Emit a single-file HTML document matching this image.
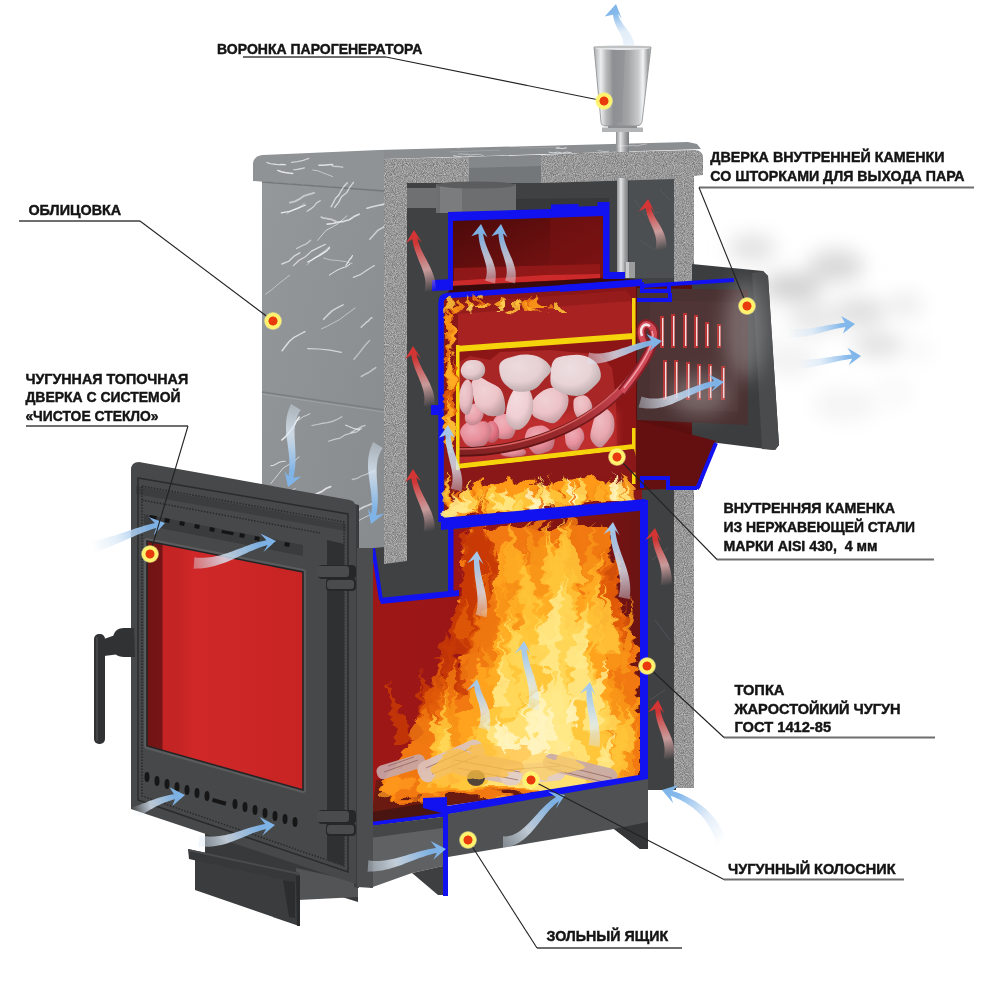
<!DOCTYPE html>
<html><head><meta charset="utf-8">
<style>
html,body{margin:0;padding:0;background:#fff;}
body{width:1000px;height:1000px;overflow:hidden;position:relative;}
svg{position:absolute;left:0;top:0;}
.t{font-family:"Liberation Sans",sans-serif;font-weight:bold;font-size:15px;fill:#141414;stroke:#141414;stroke-width:0.45px;}
</style></head><body>
<svg width="1000" height="1000" viewBox="0 0 1000 1000">
<defs>
  <filter id="blur10" x="-50%" y="-50%" width="200%" height="200%"><feGaussianBlur stdDeviation="10"/></filter>
  <filter id="blur4" x="-50%" y="-50%" width="200%" height="200%"><feGaussianBlur stdDeviation="4"/></filter>
  <filter id="blur2" x="-50%" y="-50%" width="200%" height="200%"><feGaussianBlur stdDeviation="1.5"/></filter>
  <filter id="blur1" x="-50%" y="-50%" width="200%" height="200%"><feGaussianBlur stdDeviation="0.8"/></filter>
  <filter id="speck" x="0" y="0" width="100%" height="100%" color-interpolation-filters="sRGB">
    <feTurbulence type="fractalNoise" baseFrequency="1.1" numOctaves="1" seed="3"/>
    <feColorMatrix type="matrix" values="0.55 0 0 0 0.32  0.55 0 0 0 0.32  0.55 0 0 0 0.32  0 0 0 0 1"/>
    <feComposite in2="SourceGraphic" operator="in"/>
  </filter>
  <filter id="flameF" x="-20%" y="-20%" width="140%" height="140%" color-interpolation-filters="sRGB">
    <feTurbulence type="fractalNoise" baseFrequency="0.025 0.07" numOctaves="3" seed="7" result="t"/>
    <feDisplacementMap in="SourceGraphic" in2="t" scale="28" xChannelSelector="R" yChannelSelector="G"/>
  </filter>
  <filter id="flameS" x="-20%" y="-20%" width="140%" height="140%" color-interpolation-filters="sRGB">
    <feTurbulence type="fractalNoise" baseFrequency="0.05 0.12" numOctaves="2" seed="11" result="t"/>
    <feDisplacementMap in="SourceGraphic" in2="t" scale="16" xChannelSelector="R" yChannelSelector="G"/>
  </filter>
  <linearGradient id="stoneG" x1="0" y1="0" x2="1" y2="1">
    <stop offset="0" stop-color="#94989b"/><stop offset="1" stop-color="#878b8e"/>
  </linearGradient>
  <linearGradient id="upG" x1="0" y1="0" x2="1" y2="1">
    <stop offset="0" stop-color="#4a0909"/><stop offset="1" stop-color="#861515"/>
  </linearGradient>
  <linearGradient id="glassG" x1="0" y1="0" x2="1" y2="0">
    <stop offset="0" stop-color="#721414"/><stop offset="0.095" stop-color="#761515"/>
    <stop offset="0.105" stop-color="#c62424"/><stop offset="0.2" stop-color="#c42424"/><stop offset="0.3" stop-color="#d02828"/><stop offset="1" stop-color="#c82424"/>
  </linearGradient>
  <linearGradient id="fireWall" x1="0" y1="0" x2="1" y2="0">
    <stop offset="0" stop-color="#9e1717"/><stop offset="0.3" stop-color="#9a1616"/><stop offset="0.75" stop-color="#801414"/><stop offset="1" stop-color="#6a1313"/>
  </linearGradient>
  <linearGradient id="funG" x1="0" y1="0" x2="1" y2="0">
    <stop offset="0" stop-color="#a9abad"/><stop offset="0.12" stop-color="#eceeef"/><stop offset="0.22" stop-color="#b5b7b9"/>
    <stop offset="0.35" stop-color="#8d8f91"/><stop offset="0.6" stop-color="#a3a5a7"/><stop offset="0.78" stop-color="#c9cbcd"/>
    <stop offset="0.86" stop-color="#f2f3f4"/><stop offset="0.95" stop-color="#9a9c9e"/><stop offset="1" stop-color="#bfc1c3"/>
  </linearGradient>
  <linearGradient id="rodG" x1="0" y1="0" x2="1" y2="0">
    <stop offset="0" stop-color="#8c8e90"/><stop offset="0.35" stop-color="#e2e4e6"/><stop offset="0.7" stop-color="#a2a4a6"/><stop offset="1" stop-color="#7a7c7e"/>
  </linearGradient>
  <linearGradient id="arrBu" x1="0" y1="1" x2="0" y2="0">
    <stop offset="0" stop-color="#ffffff" stop-opacity="0"/><stop offset="1" stop-color="#86bbec"/>
  </linearGradient>
  <linearGradient id="arrBd" x1="0" y1="0" x2="0" y2="1">
    <stop offset="0" stop-color="#ffffff" stop-opacity="0"/><stop offset="1" stop-color="#86bbec"/>
  </linearGradient>
  <linearGradient id="arrBr" x1="0" y1="0" x2="1" y2="0">
    <stop offset="0" stop-color="#ffffff" stop-opacity="0"/><stop offset="1" stop-color="#86bbec"/>
  </linearGradient>
  <linearGradient id="arrBl" x1="1" y1="0" x2="0" y2="0">
    <stop offset="0" stop-color="#ffffff" stop-opacity="0"/><stop offset="1" stop-color="#86bbec"/>
  </linearGradient>
  <linearGradient id="arrR" x1="0" y1="1" x2="0" y2="0">
    <stop offset="0" stop-color="#d44" stop-opacity="0"/><stop offset="1" stop-color="#d83a3a"/>
  </linearGradient>
  <linearGradient id="arrW" x1="0" y1="1" x2="0" y2="0">
    <stop offset="0" stop-color="#ffffff" stop-opacity="0"/><stop offset="0.5" stop-color="#e8eef8" stop-opacity="0.7"/><stop offset="1" stop-color="#9cc4ec"/>
  </linearGradient>
  <radialGradient id="dotG"><stop offset="0.46" stop-color="#e83a0c"/><stop offset="0.54" stop-color="#fff36e"/><stop offset="0.84" stop-color="#fff36e"/><stop offset="1" stop-color="#fff8a0" stop-opacity="0.4"/></radialGradient>
</defs>
<!-- ============ STEAM ============ -->
<g filter="url(#blur10)">
  <ellipse cx="752" cy="248" rx="24" ry="13" fill="#e0e0e0"/>
  <ellipse cx="792" cy="287" rx="30" ry="14" fill="#d0d0d0"/>
  <ellipse cx="836" cy="266" rx="28" ry="16" fill="#d8d8d8"/>
  <ellipse cx="860" cy="312" rx="26" ry="14" fill="#dedede"/>
  <ellipse cx="878" cy="345" rx="26" ry="12" fill="#e0e0e0"/>
  <ellipse cx="905" cy="305" rx="18" ry="12" fill="#ececec"/>
  <ellipse cx="815" cy="318" rx="28" ry="16" fill="#e8e8e8"/>
  <ellipse cx="790" cy="360" rx="26" ry="16" fill="#f2f2f2"/>
  <ellipse cx="845" cy="405" rx="32" ry="16" fill="#f4f4f4"/>
  <ellipse cx="895" cy="392" rx="18" ry="16" fill="#f9f9f9"/>
  <ellipse cx="920" cy="350" rx="12" ry="10" fill="#f6f6f6"/>
</g>

<!-- ============ BODY BACK (dark cavity) ============ -->
<rect x="404" y="178" width="272" height="612" fill="#3f4143"/>
<rect x="629" y="178" width="46" height="100" fill="#4c4f51"/>
<g stroke="#5c5e61" stroke-width="0.8" fill="none" opacity="0.8">
  <path d="M635,200 L645,215 L660,212"/><path d="M640,240 L655,250"/><path d="M660,190 L670,200"/>
  <path d="M652,560 L668,548"/><path d="M655,620 L670,640"/><path d="M650,700 L665,690"/>
</g>

<!-- top surface of slab -->
<polygon points="379,150 688,142 697,144 701,149 580,153 384,159" fill="#8a8e91"/>
<g stroke="#a4a7aa" stroke-width="1" fill="none" opacity="0.7">
  <path d="M450,152 L500,150"/><path d="M520,148 L560,147"/>
</g>
<!-- cut section: speckled insulation -->
<polygon points="384,159 469,157 469,183 407,183 407,564 384,564" fill="#999" filter="url(#speck)"/>
<path d="M541,155 L580,153 L694,150 Q703,150 703,158 L703,175 L694,176 L694,788 L674,788 L674,179 L541,183 Z" fill="#999" filter="url(#speck)"/>
<!-- flue gap -->
<polygon points="469,157 541,155 541,183 469,183" fill="#74777a"/>
<polygon points="469,157 541,155 541,166 469,168" fill="#85888b"/>
<!-- flue cylinder behind upper chamber -->
<rect x="436" y="184" width="80" height="29" fill="#6c6e70"/>
<rect x="440" y="184" width="22" height="29" fill="#7a7c7e"/>
<ellipse cx="476" cy="185" rx="40" ry="3.5" fill="#5a5c5e"/>
<rect x="407" y="188" width="30" height="20" fill="#6e7072"/>
<polygon points="516,199 609,198 609,212 516,212" fill="#37383a"/>
<!-- rod -->
<rect x="616" y="132" width="13" height="20" fill="url(#rodG)"/>
<rect x="617" y="178" width="11" height="98" fill="url(#rodG)"/>
<rect x="624" y="262" width="11" height="16" fill="#9a9c9e"/><rect x="626" y="262" width="3" height="16" fill="#c8cacc"/>

<!-- ============ STONE CLADDING LEFT FACE ============ -->
<polygon points="262,182 384,191 384,564 262,552" fill="url(#stoneG)"/>
<line x1="262" y1="392" x2="384" y2="410" stroke="#7a7e81" stroke-width="1.5"/>
<line x1="262" y1="394" x2="384" y2="412" stroke="#a0a4a7" stroke-width="0.8"/>
<!-- slab front -->
<path d="M253,181 L253,163 Q254,156 263,155 L379,150 L384,150 L384,191 Z" fill="#8f9396"/>
<line x1="262" y1="182" x2="384" y2="191" stroke="#74787b" stroke-width="1.4"/>
<!-- marble streaks -->
<clipPath id="cladClip"><polygon points="262,182 384,191 384,564 262,552"/><path d="M253,181 L253,163 Q254,156 263,155 L379,150 L384,150 L384,191 Z"/><polygon points="384,150 688,142 697,144 701,149 580,153 384,159"/></clipPath>
<g stroke="#eef0f2" fill="none" stroke-linecap="round" stroke-linejoin="round" clip-path="url(#cladClip)">
<path d="M281.8,440.0 L285.4,436.8 L288.6,433.1 L291.7,429.4 L294.3,425.4 L296.4,421.0 L299.3,417.1" stroke-width="1.6" opacity="0.95"/>
<path d="M327.2,224.1 L332.8,223.5 L338.3,222.2 L343.9,221.3 L349.3,219.7 L354.0,216.6 L359.1,214.2" stroke-width="1.7" opacity="0.81"/>
<path d="M317.7,240.3 L325.9,230.4 L337.3,224.3 L346.9,215.9" stroke-width="0.8" opacity="0.83"/>
<path d="M323.6,319.3 L327.8,314.9 L332.3,310.6 L337.6,307.6 L343.1,304.8" stroke-width="1.5" opacity="0.71"/>
<path d="M335.1,530.4 L340.2,527.0 L346.2,525.6 L352.2,524.1 L357.6,521.2 L363.0,518.3 L368.5,515.5" stroke-width="0.9" opacity="0.71"/>
<path d="M305.7,546.2 L308.3,543.7 L310.9,541.3 L314.1,539.7 L317.3,537.9 L320.4,536.2 L323.4,534.1" stroke-width="1.6" opacity="0.57"/>
<path d="M369.8,239.2 L373.9,234.8 L377.9,230.3 L383.2,227.4 L387.1,222.9 L391.6,218.8" stroke-width="1.6" opacity="0.65"/>
<path d="M281.3,212.8 L289.7,211.4 L297.7,208.4 L305.5,205.0" stroke-width="1.2" opacity="0.95"/>
<path d="M290.7,504.9 L292.7,503.4 L294.8,502.1 L297.2,501.5 L299.5,500.6 L301.5,499.1 L303.6,497.8" stroke-width="1.2" opacity="0.68"/>
<path d="M306.6,502.9 L309.9,499.3 L313.4,495.8 L317.6,493.3 L322.1,491.4 L326.0,488.5 L330.6,486.7" stroke-width="1.8" opacity="0.84"/>
<path d="M361.1,327.3 L362.9,325.5 L364.7,324.0 L366.4,322.2 L368.5,320.9 L369.9,319.0 L371.9,317.6" stroke-width="1.4" opacity="0.69"/>
<path d="M367.0,208.2 L372.4,206.8 L377.8,205.5 L383.3,204.4 L388.1,201.6 L392.9,198.8" stroke-width="1.7" opacity="0.76"/>
<path d="M306.9,265.0 L311.0,260.8 L315.8,257.5 L320.3,253.8 L325.1,250.4 L329.4,246.4" stroke-width="0.9" opacity="0.55"/>
<path d="M281.9,264.0 L288.5,261.4 L293.7,256.4 L299.8,252.8" stroke-width="1.4" opacity="0.73"/>
<path d="M270.9,465.8 L273.8,465.2 L276.5,463.8 L279.2,462.3 L282.2,461.5 L285.2,461.2" stroke-width="1.1" opacity="0.81"/>
<path d="M352.3,479.5 L357.1,478.4 L361.4,476.0 L366.1,474.3 L370.6,472.3 L375.1,470.3" stroke-width="1.3" opacity="0.53"/>
<path d="M270.9,483.5 L275.0,478.4 L279.1,473.3 L283.1,468.1 L288.7,464.7 L294.2,461.2 L299.1,456.8" stroke-width="0.9" opacity="0.80"/>
<path d="M331.1,206.9 L333.4,202.6 L335.6,198.2 L339.0,194.7 L341.3,190.4 L344.0,186.3 L347.3,182.7" stroke-width="1.3" opacity="0.73"/>
<path d="M307.7,348.6 L319.0,349.0 L330.2,350.2 L341.3,352.4" stroke-width="1.2" opacity="0.72"/>
<path d="M329.3,275.1 L332.6,273.0 L335.9,270.9 L339.4,269.1 L343.0,267.7 L346.8,266.6 L349.9,264.2" stroke-width="1.0" opacity="0.91"/>
<path d="M285.8,504.7 L291.7,502.4 L297.2,499.4 L303.2,497.4 L309.4,496.2 L315.5,495.0" stroke-width="1.4" opacity="0.54"/>
<path d="M282.0,350.8 L285.7,346.0 L289.4,341.2 L294.1,337.3 L299.4,334.5 L304.9,331.7" stroke-width="1.4" opacity="0.81"/>
<path d="M361.2,376.5 L363.7,375.1 L366.2,373.7 L368.7,372.5 L371.1,370.9 L373.4,369.1 L375.8,367.6" stroke-width="1.5" opacity="0.57"/>
<path d="M293.4,265.6 L299.1,260.2 L305.8,256.4 L311.5,251.1 L318.4,247.6 L325.5,244.3" stroke-width="1.2" opacity="0.78"/>
<path d="M289.9,202.6 L295.1,201.4 L299.7,198.9 L304.0,195.8 L309.0,194.3 L314.1,192.8" stroke-width="1.8" opacity="0.59"/>
<path d="M321.2,217.1 L323.5,218.2 L326.1,218.3 L328.6,219.1 L331.2,219.2 L333.6,220.4 L336.0,221.4" stroke-width="1.7" opacity="0.61"/>
<path d="M346.0,265.5 L347.2,263.5 L348.4,261.5 L349.7,259.5 L351.3,257.8 L352.4,255.7" stroke-width="1.3" opacity="0.86"/>
<path d="M351.2,432.5 L353.9,431.0 L356.4,429.2 L359.3,428.0 L362.0,426.4 L365.0,425.5" stroke-width="1.5" opacity="0.59"/>
<path d="M307.1,211.3 L310.7,208.9 L314.0,206.2 L316.6,202.9 L320.2,200.7" stroke-width="1.3" opacity="0.68"/>
<path d="M287.1,214.1 L289.5,211.7 L292.6,210.2 L295.7,208.7 L298.8,207.3 L301.8,205.6 L304.3,203.3" stroke-width="0.8" opacity="0.67"/>
<path d="M348.0,514.2 L352.2,513.2 L356.4,512.0 L359.7,509.2 L363.5,507.1 L367.6,505.5 L371.6,503.9" stroke-width="1.8" opacity="0.68"/>
<path d="M345.6,425.1 L348.4,426.3 L351.1,427.4 L353.8,428.6 L356.7,429.2 L359.7,429.4" stroke-width="1.0" opacity="0.95"/>
<path d="M307.8,262.0 L311.7,260.0 L315.4,257.7 L319.3,255.7 L322.9,253.3 L326.6,250.9 L329.5,247.7" stroke-width="1.4" opacity="0.95"/>
<path d="M321.5,328.9 L327.5,326.1 L333.3,322.9 L339.2,319.8 L344.5,315.8 L349.8,311.9 L355.1,308.0" stroke-width="0.9" opacity="0.61"/>
<path d="M353.3,277.3 L360.8,274.3 L367.5,269.7 L374.4,265.5" stroke-width="1.3" opacity="0.71"/>
<path d="M296.6,248.5 L301.5,246.0 L306.5,243.7 L310.7,240.1" stroke-width="1.2" opacity="0.68"/>
<path d="M353.9,359.3 L357.9,354.6 L361.7,349.8 L365.4,344.9 L369.6,340.5" stroke-width="1.5" opacity="0.51"/>
<path d="M328.6,441.2 L334.4,439.4 L340.2,438.1 L345.2,434.8 L351.0,433.2 L356.8,431.8 L361.6,428.2" stroke-width="1.2" opacity="0.61"/>
<path d="M297.3,420.5 L300.4,418.9 L303.3,416.6 L306.6,415.4 L309.8,413.7" stroke-width="0.9" opacity="0.78"/>
<path d="M267.5,513.4 L272.1,507.4 L278.3,503.1 L283.8,498.1 L288.6,492.2 L295.2,488.5" stroke-width="0.8" opacity="0.88"/>
<path d="M334.7,207.4 L338.6,202.4 L341.5,196.7 L346.5,192.8 L349.7,187.3 L353.5,182.3" stroke-width="1.3" opacity="0.74"/>
<path d="M311.9,425.5 L317.1,424.5 L322.2,423.4 L327.4,422.6 L332.6,421.4 L337.4,419.3 L341.9,416.7" stroke-width="1.2" opacity="0.60"/>
<path d="M265.5,294.3 L271.7,289.8 L277.4,284.7 L283.5,280.0 L289.6,275.3" stroke-width="1.0" opacity="0.52"/>
<path d="M323.5,258.0 L330.5,260.0 L337.8,260.5 L345.1,261.5 L352.1,263.7" stroke-width="0.9" opacity="0.56"/>
<path d="M266.9,162.4 L270.5,163.7 L274.3,164.1 L278.1,164.7 L281.9,164.4 L285.8,164.8" stroke-width="1.1" opacity="0.88"/>
<path d="M332.2,165.8 L333.9,166.2 L335.7,166.5 L337.4,166.4 L339.2,166.6 L340.9,166.9 L342.6,167.3" stroke-width="1.4" opacity="0.60"/>
<path d="M293.8,169.6 L296.5,169.7 L299.2,169.0 L301.8,168.5 L304.4,167.8" stroke-width="1.3" opacity="0.69"/>
<path d="M318.9,165.3 L323.5,165.2 L328.0,164.7 L332.6,164.5" stroke-width="1.4" opacity="0.83"/>
<path d="M291.5,162.4 L297.4,161.6 L303.2,160.3 L308.9,158.4" stroke-width="1.3" opacity="0.67"/>
<path d="M277.7,170.4 L281.4,171.7 L285.1,172.5 L288.9,173.1 L292.7,173.5" stroke-width="1.5" opacity="0.89"/>
<path d="M312.7,170.0 L317.9,170.8 L322.8,172.8 L327.7,174.6 L332.6,176.6" stroke-width="0.9" opacity="0.65"/>
<path d="M413.6,145.6 L419.6,146.0 L425.5,144.3 L431.6,144.2 L437.6,145.1" stroke-width="0.9" opacity="0.55"/>
<path d="M453.6,155.8 L459.8,156.8 L466.0,158.3 L472.3,158.3 L478.6,158.9" stroke-width="1.1" opacity="0.75"/>
<path d="M544.2,155.7 L549.9,155.4 L555.5,153.9 L561.3,154.2 L567.0,154.6" stroke-width="0.9" opacity="0.77"/>
<path d="M439.8,146.2 L443.7,146.5 L447.5,147.2 L451.4,146.8 L455.2,147.3 L459.0,148.2" stroke-width="1.0" opacity="0.44"/>
<path d="M556.2,148.1 L558.3,147.9 L560.3,148.2 L562.3,148.5 L564.3,148.2 L566.3,147.9" stroke-width="1.1" opacity="0.79"/>
<path d="M549.0,152.2 L553.4,152.8 L557.9,152.1 L562.3,153.1 L566.7,152.1 L571.2,152.7" stroke-width="1.0" opacity="0.73"/>
<path d="M598.0,150.6 L600.7,151.0 L603.3,151.5 L606.0,151.6 L608.7,151.2" stroke-width="0.8" opacity="0.63"/>
<path d="M618.3,146.1 L623.0,145.6 L627.7,146.0 L632.4,145.3 L637.1,146.0 L641.7,144.7 L646.4,144.0" stroke-width="0.9" opacity="0.53"/>
<path d="M458.3,154.0 L462.5,154.0 L466.7,154.4 L470.9,154.9 L475.1,154.3 L479.3,154.5 L483.5,155.5" stroke-width="1.2" opacity="0.43"/>
<path d="M654.1,155.0 L657.0,155.6 L659.8,156.4 L662.7,156.7 L665.6,156.1" stroke-width="1.0" opacity="0.76"/>
</g>


<!-- ============ UPPER CHAMBER ============ -->
<polygon points="452,220 604,215 604,279 452,286" fill="url(#upG)"/>
<polygon points="550,217 604,215 604,279 550,281" fill="#7a1212" opacity="0.5"/>
<polygon points="454,268 600,264 600,280 454,284" fill="#9a1a1a" opacity="0.8"/>
<polygon points="452,281 545,275 600,274 600,278 452,286" fill="#cc2a2a"/>
<polygon points="453,286 605,278 642,280 642,284 444,297" fill="#3a0909"/>
<g fill="#1212f0">
  <polygon points="448,212 551,209 551,204.5 578.5,204 578.5,206.5 597.5,206 597.5,202 609,202 609,216 603,216 452,221"/>
  <rect x="448" y="212" width="5" height="72"/>
  <polygon points="432,280 453,279 453,290 432,291"/>
  <rect x="603" y="202" width="6.5" height="73"/>
  <rect x="603" y="272" width="22" height="7"/>
</g>
<!-- ============ STONE CHAMBER ============ -->
<polygon points="444,298 642,284 642,505 444,520" fill="#8a1717"/>
<!-- cylinder top -->
<path d="M458,303 L626,291 Q638,310 630,334 L458,347 Z" fill="#a82222"/>
<path d="M458,303 L626,291 Q632,297 632,301 L458,314 Z" fill="#961c1c"/>
<polygon points="459,352 634,339 634,445 459,464" fill="#8c1616"/>
<!-- right side door interior area -->
<polygon points="636,286 700,284 700,470 636,482" fill="#5a0e0e"/>
<!-- stones -->
<path d="M459,362 L470,356 L490,360 L500,352 L550,350 L570,352 L600,354 L612,368 L616,400 L617,448 L600,456 L459,463 Z" fill="#a82626"/>
<path d="M459,420 L617,410 L617,448 L600,456 L459,463 Z" fill="#c83030" opacity="0.7" filter="url(#blur4)"/>
<defs><radialGradient id="st0" cx="0.38" cy="0.32" r="0.75"><stop offset="0" stop-color="#eaa5ae"/><stop offset="0.55" stop-color="#e48894"/><stop offset="1" stop-color="#b16a73"/></radialGradient><radialGradient id="st1" cx="0.38" cy="0.32" r="0.75"><stop offset="0" stop-color="#eebdc3"/><stop offset="0.55" stop-color="#e9a8b0"/><stop offset="1" stop-color="#b58389"/></radialGradient><radialGradient id="st2" cx="0.38" cy="0.32" r="0.75"><stop offset="0" stop-color="#edadb6"/><stop offset="0.55" stop-color="#e8929e"/><stop offset="1" stop-color="#b4717b"/></radialGradient><radialGradient id="st3" cx="0.38" cy="0.32" r="0.75"><stop offset="0" stop-color="#eda9b2"/><stop offset="0.55" stop-color="#e78d99"/><stop offset="1" stop-color="#b46d77"/></radialGradient><radialGradient id="st4" cx="0.38" cy="0.32" r="0.75"><stop offset="0" stop-color="#f0b3bb"/><stop offset="0.55" stop-color="#ec9aa5"/><stop offset="1" stop-color="#b87880"/></radialGradient><radialGradient id="st5" cx="0.38" cy="0.32" r="0.75"><stop offset="0" stop-color="#e7939f"/><stop offset="0.55" stop-color="#e07080"/><stop offset="1" stop-color="#ae5763"/></radialGradient><radialGradient id="st6" cx="0.38" cy="0.32" r="0.75"><stop offset="0" stop-color="#edaab3"/><stop offset="0.55" stop-color="#e88e9a"/><stop offset="1" stop-color="#b46e78"/></radialGradient><radialGradient id="st7" cx="0.38" cy="0.32" r="0.75"><stop offset="0" stop-color="#efb9c0"/><stop offset="0.55" stop-color="#eaa2ac"/><stop offset="1" stop-color="#b67e86"/></radialGradient><radialGradient id="st8" cx="0.38" cy="0.32" r="0.75"><stop offset="0" stop-color="#efc8cc"/><stop offset="0.55" stop-color="#eab6bc"/><stop offset="1" stop-color="#b68d92"/></radialGradient><radialGradient id="st9" cx="0.38" cy="0.32" r="0.75"><stop offset="0" stop-color="#f0d1d5"/><stop offset="0.55" stop-color="#ecc2c8"/><stop offset="1" stop-color="#b8979c"/></radialGradient><radialGradient id="st10" cx="0.38" cy="0.32" r="0.75"><stop offset="0" stop-color="#f3dbde"/><stop offset="0.55" stop-color="#efcfd3"/><stop offset="1" stop-color="#baa1a4"/></radialGradient><radialGradient id="st11" cx="0.38" cy="0.32" r="0.75"><stop offset="0" stop-color="#f0d2d5"/><stop offset="0.55" stop-color="#ecc4c8"/><stop offset="1" stop-color="#b8989c"/></radialGradient><radialGradient id="st12" cx="0.38" cy="0.32" r="0.75"><stop offset="0" stop-color="#edccd1"/><stop offset="0.55" stop-color="#e8bcc2"/><stop offset="1" stop-color="#b49297"/></radialGradient><radialGradient id="st13" cx="0.38" cy="0.32" r="0.75"><stop offset="0" stop-color="#ecd7d9"/><stop offset="0.55" stop-color="#e6cacd"/><stop offset="1" stop-color="#b39d9f"/></radialGradient><radialGradient id="st14" cx="0.38" cy="0.32" r="0.75"><stop offset="0" stop-color="#ecdbde"/><stop offset="0.55" stop-color="#e6d0d3"/><stop offset="1" stop-color="#b3a2a4"/></radialGradient><radialGradient id="st15" cx="0.38" cy="0.32" r="0.75"><stop offset="0" stop-color="#eddee0"/><stop offset="0.55" stop-color="#e8d3d6"/><stop offset="1" stop-color="#b4a4a6"/></radialGradient></defs>
<path d="M526.1,452.0 C526.2,452.9 525.8,454.2 524.3,454.9 C522.8,455.7 519.8,456.3 517.2,456.6 C514.5,456.9 511.2,457.1 508.6,456.8 C506.0,456.6 502.8,455.8 501.5,455.0 C500.1,454.2 500.2,452.9 500.5,452.0 C500.7,451.1 501.7,450.2 503.0,449.4 C504.3,448.6 506.1,447.2 508.4,446.9 C510.7,446.6 514.5,447.2 517.1,447.5 C519.6,447.9 522.1,448.5 523.6,449.3 C525.1,450.0 525.9,451.1 526.1,452.0 Z" fill="url(#st0)"/>
<path d="M613.7,431.1 C612.6,434.7 609.8,438.1 607.6,440.9 C605.4,443.6 602.8,446.9 600.5,447.5 C598.3,448.1 595.9,446.1 594.2,444.3 C592.5,442.5 590.6,439.8 590.3,436.7 C590.0,433.5 591.3,429.1 592.3,425.4 C593.3,421.7 594.3,417.5 596.2,414.7 C598.0,411.8 601.2,408.9 603.5,408.4 C605.8,407.8 608.2,409.7 609.9,411.5 C611.7,413.3 613.4,415.9 614.0,419.2 C614.6,422.4 614.7,427.5 613.7,431.1 Z" fill="url(#st1)"/>
<path d="M584.3,438.0 C584.0,440.3 582.4,442.3 581.2,444.3 C580.1,446.3 579.0,449.1 577.2,449.9 C575.5,450.8 572.7,450.4 570.9,449.5 C569.1,448.6 567.3,446.6 566.3,444.7 C565.4,442.8 565.3,440.4 565.1,438.0 C565.0,435.6 564.4,432.3 565.3,430.4 C566.3,428.6 569.0,427.5 571.0,426.8 C572.9,426.1 575.3,425.5 577.2,426.2 C579.2,426.8 581.5,428.5 582.7,430.4 C583.9,432.4 584.5,435.7 584.3,438.0 Z" fill="url(#st2)"/>
<path d="M554.5,439.0 C554.8,442.0 554.0,446.2 552.3,448.5 C550.5,450.8 547.0,451.9 544.2,452.8 C541.4,453.7 538.0,454.9 535.4,454.1 C532.9,453.2 530.7,450.1 528.9,447.6 C527.2,445.1 525.0,442.0 524.8,439.0 C524.6,436.0 526.0,431.7 527.8,429.5 C529.7,427.4 533.4,426.7 536.1,426.1 C538.8,425.6 541.5,425.2 543.9,426.0 C546.3,426.8 548.7,428.7 550.5,430.8 C552.3,433.0 554.2,436.0 554.5,439.0 Z" fill="url(#st3)"/>
<path d="M516.3,422.5 C517.1,425.0 516.2,428.3 515.5,430.8 C514.7,433.3 513.6,436.1 511.9,437.5 C510.1,438.9 507.1,439.2 504.7,439.2 C502.3,439.2 499.5,438.8 497.5,437.4 C495.6,436.0 493.9,433.3 493.1,431.0 C492.3,428.6 492.2,425.7 492.8,423.3 C493.3,420.9 494.5,418.1 496.2,416.6 C498.0,415.0 500.8,414.2 503.2,414.0 C505.7,413.9 508.8,414.3 511.0,415.7 C513.2,417.1 515.6,420.0 516.3,422.5 Z" fill="url(#st4)"/>
<path d="M499.2,432.0 C499.3,434.0 499.0,436.7 498.1,438.4 C497.3,440.1 495.7,441.5 494.3,442.2 C492.9,442.8 491.0,443.1 489.6,442.4 C488.3,441.8 486.9,439.8 486.2,438.0 C485.5,436.3 485.6,434.1 485.6,432.0 C485.5,429.9 485.3,427.4 485.9,425.7 C486.6,424.0 488.2,422.3 489.6,421.6 C491.0,420.9 493.0,421.0 494.3,421.7 C495.7,422.5 496.9,424.4 497.7,426.1 C498.5,427.8 499.1,430.0 499.2,432.0 Z" fill="url(#st5)"/>
<path d="M491.6,428.3 C492.2,430.8 490.7,433.8 489.7,436.6 C488.7,439.3 487.8,442.7 485.4,444.6 C483.1,446.4 478.7,447.3 475.6,447.4 C472.5,447.5 469.2,446.4 467.0,444.9 C464.8,443.5 463.7,441.2 462.6,438.9 C461.4,436.6 459.6,433.7 460.2,431.1 C460.8,428.4 463.6,424.6 466.3,423.1 C469.0,421.6 473.1,422.3 476.4,422.0 C479.7,421.8 483.6,420.7 486.1,421.7 C488.6,422.8 491.0,425.9 491.6,428.3 Z" fill="url(#st6)"/>
<path d="M483.7,414.0 C483.6,416.0 482.5,418.3 481.4,419.9 C480.3,421.6 478.7,423.0 476.9,423.9 C475.1,424.7 472.7,425.5 470.8,425.0 C468.8,424.5 466.3,422.8 465.3,420.9 C464.4,419.1 465.0,416.2 465.1,414.0 C465.2,411.8 464.8,409.0 465.8,407.4 C466.8,405.9 469.3,405.4 471.3,404.7 C473.2,404.0 475.5,402.6 477.2,403.1 C479.0,403.7 480.6,406.0 481.7,407.8 C482.8,409.6 483.8,412.0 483.7,414.0 Z" fill="url(#st7)"/>
<path d="M592.2,406.0 C592.4,408.4 591.6,411.8 590.4,413.7 C589.2,415.6 586.9,416.5 584.9,417.3 C583.0,418.1 580.5,419.3 578.8,418.6 C577.1,417.8 575.6,414.8 574.7,412.7 C573.8,410.6 573.6,408.3 573.5,406.0 C573.4,403.7 573.2,400.5 574.2,398.9 C575.2,397.2 577.6,396.4 579.4,395.9 C581.1,395.3 583.0,394.9 584.7,395.5 C586.4,396.0 588.2,397.4 589.5,399.2 C590.7,400.9 592.0,403.6 592.2,406.0 Z" fill="url(#st8)"/>
<path d="M567.7,395.4 C569.1,398.2 568.6,402.6 567.7,405.9 C566.9,409.1 565.0,412.0 562.7,414.8 C560.5,417.7 557.5,422.2 554.2,423.1 C550.9,424.1 546.6,421.8 543.1,420.5 C539.6,419.2 535.0,418.1 533.0,415.4 C531.1,412.6 530.4,407.5 531.3,404.0 C532.2,400.5 535.5,396.9 538.3,394.3 C541.1,391.7 544.6,389.3 548.1,388.4 C551.5,387.4 556.0,387.6 559.3,388.8 C562.5,389.9 566.3,392.5 567.7,395.4 Z" fill="url(#st9)"/>
<path d="M533.1,409.3 C532.4,413.7 530.3,419.0 528.1,422.3 C525.9,425.6 522.8,428.3 520.2,429.3 C517.5,430.3 514.4,429.8 512.1,428.2 C509.8,426.5 507.0,423.4 506.2,419.5 C505.4,415.6 506.3,409.3 507.3,404.8 C508.3,400.2 510.1,395.7 512.2,392.2 C514.3,388.8 517.3,384.7 519.8,383.9 C522.3,383.1 525.2,385.5 527.2,387.6 C529.3,389.6 531.0,392.5 532.0,396.1 C533.0,399.8 533.7,404.9 533.1,409.3 Z" fill="url(#st10)"/>
<path d="M500.6,389.2 C503.2,392.6 504.4,398.5 504.9,402.6 C505.5,406.6 505.6,411.2 504.1,413.4 C502.6,415.7 498.9,415.7 495.9,416.0 C493.0,416.3 489.8,416.7 486.5,415.1 C483.3,413.4 478.7,409.6 476.4,406.1 C474.2,402.6 473.7,397.9 472.9,394.0 C472.1,390.0 470.7,385.1 471.7,382.3 C472.6,379.5 475.9,377.2 478.8,377.2 C481.8,377.2 485.7,380.3 489.4,382.3 C493.0,384.3 498.0,385.8 500.6,389.2 Z" fill="url(#st11)"/>
<path d="M473.1,397.0 C473.0,400.7 472.4,404.5 471.6,407.4 C470.7,410.3 469.5,413.6 468.2,414.6 C467.0,415.6 465.3,414.5 463.9,413.4 C462.6,412.3 461.0,410.7 460.1,408.0 C459.3,405.2 458.6,400.4 458.7,397.0 C458.8,393.6 460.1,390.2 461.0,387.6 C461.9,385.1 462.9,383.1 464.1,381.7 C465.3,380.3 466.9,378.8 468.2,379.4 C469.6,380.0 471.4,382.5 472.2,385.4 C473.0,388.4 473.2,393.3 473.1,397.0 Z" fill="url(#st12)"/>
<path d="M485.0,367.9 C485.4,369.9 485.2,372.3 484.2,374.2 C483.2,376.1 481.0,378.3 478.7,379.2 C476.5,380.2 473.3,380.3 470.9,380.0 C468.4,379.7 465.8,378.9 464.1,377.6 C462.4,376.3 461.2,374.1 460.9,372.1 C460.5,370.2 460.9,367.8 462.0,365.9 C463.1,364.0 465.1,361.7 467.2,360.8 C469.4,359.8 472.7,359.8 475.1,360.0 C477.6,360.3 480.3,361.1 481.9,362.4 C483.6,363.7 484.6,365.9 485.0,367.9 Z" fill="url(#st13)"/>
<path d="M551.2,369.6 C551.2,373.1 546.4,376.9 543.4,380.2 C540.5,383.5 538.0,387.5 533.6,389.4 C529.3,391.3 522.1,392.3 517.3,391.5 C512.5,390.6 507.9,387.2 505.1,384.3 C502.2,381.4 500.6,377.8 499.9,374.1 C499.2,370.4 498.3,365.2 500.8,362.2 C503.3,359.1 510.2,357.1 515.1,355.9 C519.9,354.6 525.2,354.2 529.9,354.8 C534.7,355.4 540.0,356.9 543.5,359.4 C547.0,361.8 551.2,366.1 551.2,369.6 Z" fill="url(#st14)"/>
<path d="M600.7,377.3 C600.0,381.4 595.5,385.2 592.2,388.2 C588.8,391.3 585.0,394.5 580.6,395.5 C576.2,396.5 570.6,395.7 565.9,394.2 C561.2,392.8 554.9,390.4 552.4,386.8 C549.8,383.3 550.3,377.5 550.7,372.9 C551.1,368.3 551.5,362.3 554.7,359.4 C557.8,356.4 564.7,355.9 569.6,355.3 C574.5,354.7 579.6,354.4 584.1,355.8 C588.6,357.1 594.0,360.0 596.8,363.6 C599.5,367.2 601.5,373.2 600.7,377.3 Z" fill="url(#st15)"/>

<!-- red tube -->
<defs><linearGradient id="tubeO" gradientUnits="userSpaceOnUse" x1="459" y1="0" x2="640" y2="0"><stop offset="0" stop-color="#5a1212"/><stop offset="0.6" stop-color="#6a1616"/><stop offset="1" stop-color="#8a1e26"/></linearGradient><linearGradient id="tubeI" gradientUnits="userSpaceOnUse" x1="459" y1="0" x2="640" y2="0"><stop offset="0" stop-color="#802020"/><stop offset="0.6" stop-color="#9a2a2e"/><stop offset="1" stop-color="#d04a58"/></linearGradient></defs>
<path d="M459,452 C520,452 590,430 632,378 C650,355 658,338 652,330 C646,322 638,330 646,344" fill="none" stroke="url(#tubeO)" stroke-width="9.5"/>
<path d="M459,452 C520,452 590,430 632,378 C650,355 658,338 652,330 C646,322 638,330 646,344" fill="none" stroke="url(#tubeI)" stroke-width="6"/>
<path d="M459,449 C520,449 588,427 630,375 C646,355 654,339 650,331" fill="none" stroke="#d66060" stroke-width="1.6"/>
<path d="M648,327 C644,325 641,330 644,336" fill="none" stroke="#f4e4e4" stroke-width="2.5"/>
<!-- yellow frame -->
<g fill="#f5d40c">
  <polygon points="456,346 634,333 634,339 456,352"/>
  <polygon points="456,464 634,444 634,449 456,469"/>
  <rect x="456" y="345" width="3.5" height="125"/>
  <rect x="632" y="298" width="3.5" height="48"/>
  <rect x="632" y="428" width="3.5" height="56"/>
</g>
<!-- bottom red shelf below stone chamber -->
<polygon points="459,469 634,449 640,472 459,490" fill="#8a1818"/>

<!-- ============ INNER DOOR (open) ============ -->
<polygon points="692,264 763,271 768,276 779,445 775,450 718,443 692,440" fill="#3c3d3f"/>
<polygon points="752,273 763,271 768,276 779,445 775,450 762,449" fill="#4a4b4d"/>
<polygon points="637,288 748,290 748,425 637,420" fill="#4a3132"/>
<polygon points="650,300 738,302 738,412 650,408" fill="#4f3536"/>
<g fill="#b83434">
  <rect x="660" y="316" width="4" height="32"/><rect x="671" y="314" width="4" height="34"/>
  <rect x="683" y="313" width="4" height="35"/><rect x="694" y="315" width="4" height="33"/>
  <rect x="705" y="322" width="4" height="26"/><rect x="717" y="324" width="4" height="24"/>
  <rect x="663" y="360" width="4" height="40"/><rect x="674" y="360" width="4" height="40"/>
  <rect x="686" y="362" width="4" height="38"/><rect x="697" y="364" width="4" height="36"/>
  <rect x="708" y="364" width="4" height="36"/><rect x="721" y="366" width="4" height="34"/>
</g>
<g fill="#f2dede">
  <rect x="662" y="318" width="1.4" height="28"/><rect x="673" y="316" width="1.4" height="30"/>
  <rect x="685" y="315" width="1.4" height="31"/><rect x="696" y="317" width="1.4" height="29"/>
  <rect x="707" y="324" width="1.4" height="22"/><rect x="719" y="326" width="1.4" height="20"/>
  <rect x="665" y="362" width="1.4" height="36"/><rect x="676" y="362" width="1.4" height="36"/>
  <rect x="688" y="364" width="1.4" height="34"/><rect x="699" y="366" width="1.4" height="32"/>
  <rect x="710" y="366" width="1.4" height="32"/><rect x="723" y="368" width="1.4" height="30"/>
</g>
<!-- steam overlay on door -->
<g filter="url(#blur10)" opacity="0.35">
  <ellipse cx="745" cy="330" rx="20" ry="50" fill="#d0d0d0"/>
  <ellipse cx="700" cy="395" rx="30" ry="20" fill="#c8c8c8"/>
</g>
<!-- tube hook over door -->
<path d="M622,392 C646,362 658,340 653,329 C646,318 636,327 644,343" fill="none" stroke="#8a1e26" stroke-width="10"/>
<path d="M622,392 C646,362 658,340 653,329 C646,318 636,327 644,343" fill="none" stroke="#d04a58" stroke-width="6"/>
<path d="M624,388 C646,360 656,340 652,331" fill="none" stroke="#f0a0a8" stroke-width="1.5"/>
<path d="M650,326 C644,322 639,328 642,336" fill="none" stroke="#f6e8e8" stroke-width="2.5"/>
<!-- lower kamenka outlet -->
<polygon points="636,420 716,441 700,488 636,490" fill="#641010"/>
<g fill="none" stroke="#1212f0" stroke-width="4">
  <path d="M642,282 L642,291 L669,291 L669,284"/>
  <path d="M642,286 L734,280"/>
  <path d="M637,300 L670,300 L670,293"/>
  <path d="M716,443 L697,489"/>
  <path d="M642,488 L642,478 L668,478 L668,488 L697,488"/>
</g>
<!-- stone chamber blue outline -->
<path d="M441,522 L441,303 Q441,296 448,295.5 L642,282.5" fill="none" stroke="#1212f0" stroke-width="5.5"/>
<polygon points="560,285 642,279 642,286 560,292" fill="#1212f0"/>
<rect x="431" y="405" width="10" height="10" fill="#1212f0"/>
<!-- ============ FIREBOX ============ -->
<polygon points="371,548 381,602 449,592 449,530 645,505 645,778 445,803 370,822" fill="url(#fireWall)"/>
<polygon points="374,548 384,547 384,530 449,528 449,596 381,602" fill="#3f4143"/>
<polygon points="384,520 407,520 407,561 384,564" fill="#999" filter="url(#speck)"/>
<!-- floor -->
<polygon points="376,780 645,752 645,778 445,806 445,816 372,826 372,815" fill="#6a1a10"/>
<polygon points="372,812 445,800 445,816 372,826" fill="#4a1410"/>
<!-- flames in firebox -->
<g filter="url(#flameF)">
  <path d="M395,800 C392,770 405,745 420,725 C430,705 445,690 458,660 C462,630 458,600 462,560 C465,540 470,532 480,528 L605,526 C612,545 608,570 612,595 C625,620 640,650 640,700 L640,795 Z" fill="#f27812"/>
  <path d="M420,795 C420,765 440,740 460,715 C475,690 480,660 488,625 C492,590 495,560 505,540 C520,555 540,545 555,540 C570,560 585,580 595,620 C610,660 625,700 628,790 Z" fill="#ffa21e"/>
  <path d="M450,790 C455,755 475,730 492,705 C505,680 510,650 520,620 C530,600 545,595 560,610 C575,640 590,680 600,720 C610,755 612,775 610,790 Z" fill="#ffc83c"/>
  <path d="M485,790 C490,760 505,735 520,712 C535,690 550,680 565,700 C580,725 590,760 590,790 Z" fill="#ffe070"/>
  <path d="M515,770 C520,745 535,725 550,720 C565,735 572,755 570,772 Z" fill="#fff2b8"/>
</g>
<g filter="url(#flameS)">
  <path d="M455,515 C458,495 470,490 478,480 C490,492 500,484 510,476 C522,490 540,482 552,486 C566,472 582,480 600,478 C614,488 624,494 636,500 L455,518 Z" fill="#ff9a18"/>
  <path d="M470,512 C475,498 485,495 492,490 C505,500 520,494 530,490 C545,498 560,494 575,492 L590,505 L470,515 Z" fill="#ffcc40"/>
  <path d="M380,790 C385,775 390,768 400,760 C402,775 398,785 396,800 Z" fill="#ff8a10"/>
</g>
<g filter="url(#flameS)">
<path d="M446.9,507.9 C446.9,501.0 451.3,498.0 452.1,492.6 C452.6,498.7 452.0,500.3 452.0,507.9 Z" fill="#e05a08" opacity="0.85"/>
<path d="M449.1,382.3 C449.1,373.2 451.2,369.2 451.8,362.1 C452.2,370.2 453.1,372.2 453.1,382.3 Z" fill="#e05a08" opacity="0.85"/>
<path d="M447.8,398.0 C447.8,380.3 455.3,372.5 456.5,358.7 C457.3,374.4 455.6,378.4 455.6,398.0 Z" fill="#e05a08" opacity="0.85"/>
<path d="M443.6,410.4 C443.6,392.9 450.2,385.2 451.0,371.6 C451.6,387.1 449.2,391.0 449.2,410.4 Z" fill="#e05a08" opacity="0.85"/>
<path d="M446.5,425.4 C446.5,417.0 453.0,413.3 454.1,406.8 C454.8,414.2 453.5,416.1 453.5,425.4 Z" fill="#e05a08" opacity="0.85"/>
<path d="M445.5,325.9 C445.5,319.1 448.7,316.1 449.4,310.7 C449.8,316.8 450.0,318.3 450.0,325.9 Z" fill="#e05a08" opacity="0.85"/>
<path d="M550.9,505.9 C550.9,497.4 556.9,493.7 559.0,487.1 C560.4,494.6 564.8,496.5 564.8,505.9 Z" fill="#e05a08" opacity="0.85"/>
<path d="M447.9,340.8 C447.9,324.8 449.1,317.7 450.1,305.2 C450.7,319.5 454.6,323.0 454.6,340.8 Z" fill="#f07810" opacity="0.85"/>
<path d="M450.0,513.9 C450.0,501.7 460.8,496.2 462.2,486.7 C463.2,497.6 459.6,500.3 459.6,513.9 Z" fill="#f07810" opacity="0.85"/>
<path d="M577.5,505.9 C577.5,492.7 574.6,486.8 576.1,476.5 C577.1,488.3 587.5,491.2 587.5,505.9 Z" fill="#f07810" opacity="0.85"/>
<path d="M475.1,515.1 C475.1,500.8 471.0,494.5 472.7,483.4 C473.8,496.1 485.9,499.2 485.9,515.1 Z" fill="#f07810" opacity="0.85"/>
<path d="M452.6,311.9 C452.6,308.6 458.2,307.1 459.2,304.6 C459.8,307.5 459.1,308.2 459.1,311.9 Z" fill="#f07810" opacity="0.85"/>
<path d="M610.0,501.9 C610.0,492.2 620.1,487.9 621.7,480.4 C622.7,489.0 620.3,491.1 620.3,501.9 Z" fill="#f07810" opacity="0.85"/>
<path d="M548.4,504.4 C548.4,499.0 555.2,496.6 556.8,492.5 C557.8,497.2 558.9,498.4 558.9,504.4 Z" fill="#f07810" opacity="0.85"/>
<path d="M446.4,414.6 C446.4,402.5 451.0,397.1 452.1,387.7 C452.8,398.4 453.4,401.1 453.4,414.6 Z" fill="#f07810" opacity="0.85"/>
<path d="M481.0,509.0 C481.0,503.7 476.9,501.3 478.5,497.2 C479.5,501.9 491.3,503.1 491.3,509.0 Z" fill="#f07810" opacity="0.85"/>
<path d="M544.9,311.5 C544.9,308.1 550.5,306.6 551.4,304.0 C552.1,307.0 551.4,307.7 551.4,311.5 Z" fill="#f07810" opacity="0.85"/>
<path d="M461.2,512.2 C461.2,501.0 464.1,496.1 465.9,487.4 C467.0,497.3 473.0,499.8 473.0,512.2 Z" fill="#f07810" opacity="0.85"/>
<path d="M536.8,510.1 C536.8,501.4 542.2,497.5 543.6,490.8 C544.5,498.5 546.0,500.4 546.0,510.1 Z" fill="#f07810" opacity="0.85"/>
<path d="M610.8,504.0 C610.8,490.8 623.0,485.0 625.0,474.7 C626.3,486.5 624.2,489.4 624.2,504.0 Z" fill="#f07810" opacity="0.85"/>
<path d="M616.5,498.2 C616.5,491.8 623.5,489.0 625.3,484.1 C626.6,489.7 628.7,491.1 628.7,498.2 Z" fill="#f07810" opacity="0.85"/>
<path d="M476.0,307.3 C476.0,301.6 476.3,299.1 477.3,294.7 C477.9,299.8 482.7,301.0 482.7,307.3 Z" fill="#f07810" opacity="0.85"/>
<path d="M562.9,505.6 C562.9,498.1 570.6,494.8 572.4,489.0 C573.6,495.6 574.7,497.3 574.7,505.6 Z" fill="#f07810" opacity="0.85"/>
<path d="M538.6,505.4 C538.6,496.5 535.7,492.6 537.7,485.7 C539.1,493.6 552.1,495.6 552.1,505.4 Z" fill="#f07810" opacity="0.85"/>
<path d="M442.6,362.0 C442.6,355.0 447.9,351.9 449.0,346.5 C449.7,352.7 450.0,354.2 450.0,362.0 Z" fill="#f07810" opacity="0.85"/>
<path d="M526.2,310.2 C526.2,304.4 528.5,301.9 530.3,297.4 C531.5,302.5 537.9,303.8 537.9,310.2 Z" fill="#f07810" opacity="0.85"/>
<path d="M576.6,504.1 C576.6,492.5 575.0,487.3 576.1,478.2 C576.8,488.6 583.9,491.2 583.9,504.1 Z" fill="#f07810" opacity="0.85"/>
<path d="M444.1,382.1 C444.1,373.3 450.9,369.4 451.8,362.6 C452.5,370.4 450.6,372.4 450.6,382.1 Z" fill="#f07810" opacity="0.85"/>
<path d="M555.0,503.8 C555.0,496.6 567.9,493.4 570.0,487.9 C571.4,494.2 569.0,495.8 569.0,503.8 Z" fill="#f07810" opacity="0.85"/>
<path d="M480.4,511.2 C480.4,500.6 482.8,496.0 484.9,487.7 C486.3,497.1 494.1,499.5 494.1,511.2 Z" fill="#f07810" opacity="0.85"/>
<path d="M541.6,504.4 C541.6,499.8 539.0,497.8 541.0,494.2 C542.3,498.3 555.0,499.3 555.0,504.4 Z" fill="#f07810" opacity="0.85"/>
<path d="M447.9,449.6 C447.9,435.6 447.1,429.4 447.9,418.5 C448.5,430.9 453.6,434.1 453.6,449.6 Z" fill="#f07810" opacity="0.85"/>
<path d="M528.3,509.4 C528.3,497.4 537.7,492.0 539.1,482.6 C540.0,493.3 537.4,496.0 537.4,509.4 Z" fill="#f07810" opacity="0.85"/>
<path d="M445.2,512.9 C445.2,503.8 447.1,499.8 448.7,492.8 C449.7,500.8 455.7,502.8 455.7,512.9 Z" fill="#f07810" opacity="0.85"/>
<path d="M447.5,456.2 C447.5,444.3 451.8,438.9 452.7,429.6 C453.4,440.3 453.8,442.9 453.8,456.2 Z" fill="#f89418" opacity="0.85"/>
<path d="M445.0,337.8 C445.0,322.3 445.0,315.4 446.0,303.3 C446.7,317.1 451.9,320.5 451.9,337.8 Z" fill="#f89418" opacity="0.85"/>
<path d="M524.2,311.5 C524.2,306.7 526.6,304.6 527.9,300.8 C528.8,305.1 533.0,306.2 533.0,311.5 Z" fill="#f89418" opacity="0.85"/>
<path d="M454.9,312.2 C454.9,306.4 457.5,303.8 458.6,299.3 C459.4,304.4 462.6,305.7 462.6,312.2 Z" fill="#f89418" opacity="0.85"/>
<path d="M466.7,511.2 C466.7,501.4 466.8,497.0 468.8,489.3 C470.1,498.1 479.9,500.3 479.9,511.2 Z" fill="#f89418" opacity="0.85"/>
<path d="M525.5,508.9 C525.5,496.9 533.8,491.5 535.8,482.2 C537.1,492.9 538.6,495.5 538.6,508.9 Z" fill="#f89418" opacity="0.85"/>
<path d="M445.7,509.9 C445.7,503.0 444.8,499.9 445.6,494.6 C446.0,500.7 450.5,502.2 450.5,509.9 Z" fill="#f89418" opacity="0.85"/>
<path d="M592.0,500.3 C592.0,493.3 598.2,490.2 600.1,484.8 C601.4,491.0 604.8,492.6 604.8,500.3 Z" fill="#f89418" opacity="0.85"/>
<path d="M461.9,512.5 C461.9,505.7 461.2,502.7 463.0,497.4 C464.3,503.4 474.1,505.0 474.1,512.5 Z" fill="#f89418" opacity="0.85"/>
<path d="M544.1,505.1 C544.1,494.4 550.9,489.6 551.9,481.2 C552.6,490.8 550.8,493.2 550.8,505.1 Z" fill="#f89418" opacity="0.85"/>
<path d="M445.9,437.5 C445.9,429.1 450.8,425.4 451.8,418.8 C452.4,426.3 452.5,428.2 452.5,437.5 Z" fill="#f89418" opacity="0.85"/>
<path d="M533.5,309.1 C533.5,304.4 534.4,302.4 536.0,298.7 C537.1,302.9 544.4,303.9 544.4,309.1 Z" fill="#f89418" opacity="0.85"/>
<path d="M535.7,308.9 C535.7,302.8 534.7,300.1 535.6,295.4 C536.3,300.8 542.2,302.1 542.2,308.9 Z" fill="#f89418" opacity="0.85"/>
<path d="M530.4,508.1 C530.4,499.9 530.0,496.3 531.7,490.0 C532.8,497.2 541.4,499.0 541.4,508.1 Z" fill="#f89418" opacity="0.85"/>
<path d="M483.9,306.1 C483.9,302.6 482.2,301.0 483.2,298.3 C483.8,301.4 490.4,302.2 490.4,306.1 Z" fill="#f89418" opacity="0.85"/>
<path d="M609.3,501.7 C609.3,495.8 611.0,493.2 612.8,488.7 C613.9,493.9 620.8,495.2 620.8,501.7 Z" fill="#f89418" opacity="0.85"/>
<path d="M505.5,512.1 C505.5,502.5 511.3,498.3 512.3,490.8 C513.0,499.3 512.2,501.5 512.2,512.1 Z" fill="#f89418" opacity="0.85"/>
<path d="M553.1,504.5 C553.1,491.7 550.1,486.1 551.3,476.2 C552.1,487.5 561.4,490.3 561.4,504.5 Z" fill="#f89418" opacity="0.85"/>
<path d="M445.7,331.8 C445.7,319.4 448.2,313.8 449.3,304.1 C450.1,315.2 453.1,318.0 453.1,331.8 Z" fill="#f89418" opacity="0.85"/>
<path d="M594.4,501.9 C594.4,493.2 596.2,489.2 597.4,482.4 C598.2,490.2 602.1,492.2 602.1,501.9 Z" fill="#f89418" opacity="0.85"/>
<path d="M479.9,513.4 C479.9,502.4 484.4,497.5 485.5,488.9 C486.2,498.7 487.0,501.2 487.0,513.4 Z" fill="#ffae24" opacity="0.85"/>
<path d="M622.4,500.8 C622.4,487.2 620.5,481.2 622.6,470.6 C624.0,482.7 636.1,485.7 636.1,500.8 Z" fill="#ffae24" opacity="0.85"/>
<path d="M457.2,512.1 C457.2,501.6 452.9,496.9 454.0,488.7 C454.7,498.1 464.7,500.4 464.7,512.1 Z" fill="#ffae24" opacity="0.85"/>
<path d="M444.8,447.7 C444.8,430.7 444.2,423.1 445.2,409.8 C445.8,425.0 451.0,428.8 451.0,447.7 Z" fill="#ffae24" opacity="0.85"/>
<path d="M445.1,382.6 C445.1,372.6 448.9,368.2 450.0,360.4 C450.7,369.3 452.3,371.5 452.3,382.6 Z" fill="#ffae24" opacity="0.85"/>
<path d="M575.2,507.1 C575.2,500.3 571.7,497.2 573.3,491.9 C574.4,498.0 586.1,499.5 586.1,507.1 Z" fill="#ffae24" opacity="0.85"/>
<path d="M486.9,514.3 C486.9,505.8 495.8,502.1 497.2,495.5 C498.1,503.0 495.9,504.9 495.9,514.3 Z" fill="#ffae24" opacity="0.85"/>
<path d="M611.4,499.0 C611.4,489.0 607.9,484.5 609.5,476.8 C610.6,485.7 622.3,487.9 622.3,499.0 Z" fill="#ffae24" opacity="0.85"/>
<path d="M550.5,508.3 C550.5,496.0 549.6,490.5 551.6,481.0 C553.0,491.9 563.9,494.6 563.9,508.3 Z" fill="#ffae24" opacity="0.85"/>
<path d="M445.1,422.2 C445.1,409.6 447.6,404.0 448.6,394.2 C449.3,405.4 452.2,408.2 452.2,422.2 Z" fill="#ffae24" opacity="0.85"/>
<path d="M494.2,306.3 C494.2,302.9 501.1,301.3 502.8,298.7 C503.9,301.7 505.2,302.5 505.2,306.3 Z" fill="#ffae24" opacity="0.85"/>
<path d="M471.7,510.1 C471.7,497.5 479.0,491.8 481.1,482.0 C482.5,493.2 485.7,496.1 485.7,510.1 Z" fill="#ffae24" opacity="0.85"/>
<path d="M446.3,385.1 C446.3,368.1 448.1,360.6 449.2,347.4 C450.0,362.5 454.1,366.3 454.1,385.1 Z" fill="#ffae24" opacity="0.85"/>
<path d="M466.8,306.2 C466.8,301.3 469.2,299.2 470.2,295.4 C470.9,299.7 473.6,300.8 473.6,306.2 Z" fill="#ffae24" opacity="0.85"/>
<path d="M607.2,499.0 C607.2,488.6 613.9,484.0 615.5,475.9 C616.6,485.2 618.1,487.5 618.1,499.0 Z" fill="#ffae24" opacity="0.85"/>
<path d="M448.0,441.7 C448.0,434.2 450.6,430.9 451.5,425.0 C452.0,431.7 453.7,433.4 453.7,441.7 Z" fill="#ffae24" opacity="0.85"/>
<path d="M608.4,499.1 C608.4,490.9 604.2,487.2 605.7,480.8 C606.7,488.1 618.3,489.9 618.3,499.1 Z" fill="#ffae24" opacity="0.85"/>
<path d="M595.8,502.8 C595.8,491.3 602.4,486.2 603.6,477.2 C604.4,487.5 603.8,490.0 603.8,502.8 Z" fill="#ffae24" opacity="0.85"/>
<path d="M447.9,513.0 C447.9,497.6 446.5,490.8 447.2,478.9 C447.7,492.5 452.5,495.9 452.5,513.0 Z" fill="#ffae24" opacity="0.85"/>
<path d="M449.2,352.4 C449.2,337.8 451.9,331.3 452.7,320.0 C453.2,332.9 454.5,336.2 454.5,352.4 Z" fill="#ffae24" opacity="0.85"/>
<path d="M444.3,442.1 C444.3,432.3 445.6,427.9 446.8,420.3 C447.6,429.0 452.2,431.2 452.2,442.1 Z" fill="#ffae24" opacity="0.85"/>
<path d="M529.5,312.5 C529.5,308.9 530.1,307.3 531.4,304.5 C532.2,307.7 537.7,308.5 537.7,312.5 Z" fill="#ffae24" opacity="0.85"/>
<path d="M552.5,312.0 C552.5,307.5 555.0,305.5 556.4,302.0 C557.3,306.0 561.7,307.0 561.7,312.0 Z" fill="#ffc63a" opacity="0.85"/>
<path d="M475.9,308.0 C475.9,302.8 482.4,300.4 483.5,296.4 C484.3,301.0 483.4,302.2 483.4,308.0 Z" fill="#ffc63a" opacity="0.85"/>
<path d="M445.5,309.8 C445.5,304.1 445.6,301.5 447.1,297.0 C448.1,302.2 455.8,303.4 455.8,309.8 Z" fill="#ffc63a" opacity="0.85"/>
<path d="M446.8,431.5 C446.8,423.9 451.9,420.5 452.9,414.6 C453.6,421.4 453.6,423.1 453.6,431.5 Z" fill="#ffc63a" opacity="0.85"/>
<path d="M528.6,507.3 C528.6,501.4 525.2,498.8 527.1,494.2 C528.4,499.4 541.5,500.8 541.5,507.3 Z" fill="#ffc63a" opacity="0.85"/>
<path d="M444.3,499.4 C444.3,486.9 444.2,481.3 445.4,471.5 C446.1,482.7 451.9,485.5 451.9,499.4 Z" fill="#ffc63a" opacity="0.85"/>
<path d="M476.7,510.3 C476.7,500.1 482.1,495.5 483.2,487.6 C484.0,496.7 484.3,498.9 484.3,510.3 Z" fill="#ffc63a" opacity="0.85"/>
<path d="M515.4,308.1 C515.4,303.3 514.3,301.1 515.4,297.4 C516.1,301.7 522.3,302.7 522.3,308.1 Z" fill="#ffc63a" opacity="0.85"/>
<path d="M526.4,506.5 C526.4,498.0 524.1,494.3 525.4,487.7 C526.3,495.2 535.0,497.1 535.0,506.5 Z" fill="#ffc63a" opacity="0.85"/>
<path d="M487.2,510.5 C487.2,498.6 491.9,493.3 493.2,484.0 C494.1,494.6 496.0,497.3 496.0,510.5 Z" fill="#ffc63a" opacity="0.85"/>
<path d="M550.2,504.3 C550.2,493.8 547.8,489.1 549.9,480.9 C551.2,490.3 563.8,492.6 563.8,504.3 Z" fill="#ffc63a" opacity="0.85"/>
<path d="M518.2,507.3 C518.2,500.0 523.3,496.8 524.8,491.2 C525.8,497.6 527.9,499.2 527.9,507.3 Z" fill="#ffc63a" opacity="0.85"/>
<path d="M502.8,509.5 C502.8,503.2 512.5,500.4 514.1,495.5 C515.2,501.1 513.7,502.5 513.7,509.5 Z" fill="#ffc63a" opacity="0.85"/>
<path d="M509.4,311.2 C509.4,306.1 513.8,303.9 514.7,300.0 C515.3,304.5 515.4,305.6 515.4,311.2 Z" fill="#ffc63a" opacity="0.85"/>
<path d="M517.3,307.2 C517.3,302.8 518.9,300.8 520.1,297.4 C520.8,301.3 524.9,302.3 524.9,307.2 Z" fill="#ffc63a" opacity="0.85"/>
<path d="M574.0,504.2 C574.0,494.8 570.7,490.7 572.4,483.4 C573.5,491.7 585.1,493.8 585.1,504.2 Z" fill="#ffc63a" opacity="0.85"/>
<path d="M562.5,503.0 C562.5,489.0 562.1,482.7 563.6,471.8 C564.6,484.3 572.7,487.4 572.7,503.0 Z" fill="#ffc63a" opacity="0.85"/>
<path d="M511.9,511.7 C511.9,504.9 519.9,501.9 521.8,496.6 C523.1,502.6 524.4,504.1 524.4,511.7 Z" fill="#ffd85a" opacity="0.85"/>
<path d="M496.7,308.9 C496.7,305.4 502.9,303.9 504.2,301.2 C505.1,304.3 505.4,305.1 505.4,308.9 Z" fill="#ffd85a" opacity="0.85"/>
<path d="M536.7,504.9 C536.7,492.4 539.3,486.8 540.7,477.1 C541.6,488.2 545.9,491.0 545.9,504.9 Z" fill="#ffd85a" opacity="0.85"/>
<path d="M466.3,312.4 C466.3,307.4 469.0,305.2 470.4,301.3 C471.3,305.8 475.5,306.9 475.5,312.4 Z" fill="#ffd85a" opacity="0.85"/>
<path d="M444.9,516.0 C444.9,511.3 454.2,509.2 455.6,505.5 C456.6,509.7 454.7,510.7 454.7,516.0 Z" fill="#ffd85a" opacity="0.85"/>
<path d="M615.2,502.9 C615.2,495.7 616.9,492.5 618.0,486.9 C618.7,493.3 622.3,494.9 622.3,502.9 Z" fill="#ffd85a" opacity="0.85"/>
<path d="M569.9,504.2 C569.9,491.3 581.8,485.6 583.9,475.6 C585.3,487.0 583.9,489.9 583.9,504.2 Z" fill="#ffd85a" opacity="0.85"/>
<path d="M461.9,511.1 C461.9,497.3 464.7,491.1 466.8,480.4 C468.1,492.7 475.7,495.7 475.7,511.1 Z" fill="#ffd85a" opacity="0.85"/>
<path d="M537.1,509.9 C537.1,499.6 539.5,495.0 541.3,486.9 C542.5,496.1 549.3,498.4 549.3,509.9 Z" fill="#ffd85a" opacity="0.85"/>
<path d="M458.6,514.4 C458.6,508.9 455.3,506.5 457.1,502.2 C458.3,507.1 470.8,508.3 470.8,514.4 Z" fill="#ffe98a" opacity="0.85"/>
<path d="M530.3,508.1 C530.3,503.4 531.9,501.3 533.7,497.6 C535.0,501.8 542.5,502.9 542.5,508.1 Z" fill="#ffe98a" opacity="0.85"/>
<path d="M452.8,512.8 C452.8,505.3 464.8,502.0 466.6,496.2 C467.9,502.8 465.2,504.5 465.2,512.8 Z" fill="#ffe98a" opacity="0.85"/>
<path d="M442.7,517.6 C442.7,507.3 455.3,502.7 457.4,494.6 C458.8,503.8 456.5,506.1 456.5,517.6 Z" fill="#ffe98a" opacity="0.85"/>
<path d="M502.8,508.7 C502.8,498.2 503.8,493.6 505.3,485.4 C506.3,494.7 512.7,497.1 512.7,508.7 Z" fill="#ffe98a" opacity="0.85"/>
<path d="M623.6,499.9 C623.6,492.6 622.0,489.4 623.4,483.7 C624.4,490.2 633.5,491.8 633.5,499.9 Z" fill="#ffe98a" opacity="0.85"/>
<path d="M545.8,507.9 C545.8,493.8 541.3,487.5 542.4,476.5 C543.1,489.0 553.2,492.2 553.2,507.9 Z" fill="#ffe98a" opacity="0.85"/>
<path d="M571.4,505.4 C571.4,493.2 571.3,487.8 572.3,478.4 C573.0,489.2 578.1,491.9 578.1,505.4 Z" fill="#ffe98a" opacity="0.85"/>
<path d="M544.7,505.9 C544.7,501.2 547.9,499.1 549.4,495.4 C550.5,499.6 555.1,500.7 555.1,505.9 Z" fill="#ffe98a" opacity="0.85"/>
<path d="M491.9,509.2 C491.9,502.0 491.5,498.7 493.3,493.1 C494.6,499.5 504.4,501.2 504.4,509.2 Z" fill="#ffe98a" opacity="0.85"/>
<path d="M614.9,499.0 C614.9,488.6 618.6,484.0 619.7,475.9 C620.4,485.2 621.9,487.5 621.9,499.0 Z" fill="#ffe98a" opacity="0.85"/>
<path d="M611.3,503.2 C611.3,489.1 614.4,482.9 615.5,471.9 C616.3,484.4 618.8,487.6 618.8,503.2 Z" fill="#fff4c0" opacity="0.85"/>
<path d="M569.5,503.0 C569.5,490.1 565.1,484.4 566.3,474.4 C567.1,485.9 577.5,488.7 577.5,503.0 Z" fill="#fff4c0" opacity="0.85"/>
<path d="M531.9,510.4 C531.9,500.6 529.1,496.3 531.1,488.6 C532.4,497.4 545.4,499.5 545.4,510.4 Z" fill="#fff4c0" opacity="0.85"/>
</g>

<g filter="url(#flameS)">
<path d="M396.0,743.2 C396.0,713.0 387.1,699.6 389.0,676.1 C390.3,703.0 409.1,709.7 409.1,743.2 Z" fill="#c83a06" opacity="0.85"/>
<path d="M418.4,718.3 C418.4,702.1 419.1,694.9 420.9,682.3 C422.1,696.7 430.4,700.3 430.4,718.3 Z" fill="#c83a06" opacity="0.85"/>
<path d="M425.2,700.7 C425.2,686.7 417.9,680.5 419.9,669.7 C421.2,682.1 438.5,685.2 438.5,700.7 Z" fill="#c83a06" opacity="0.85"/>
<path d="M442.6,693.1 C442.6,664.0 451.5,651.1 454.0,628.4 C455.6,654.3 459.1,660.8 459.1,693.1 Z" fill="#c83a06" opacity="0.85"/>
<path d="M447.3,652.7 C447.3,627.9 455.5,616.8 458.8,597.5 C461.0,619.6 469.2,625.1 469.2,652.7 Z" fill="#c83a06" opacity="0.85"/>
<path d="M451.0,634.7 C451.0,608.9 464.2,597.5 467.1,577.5 C469.1,600.4 470.6,606.1 470.6,634.7 Z" fill="#c83a06" opacity="0.85"/>
<path d="M461.0,605.7 C461.0,572.5 473.4,557.7 475.7,531.8 C477.1,561.4 475.7,568.8 475.7,605.7 Z" fill="#c83a06" opacity="0.85"/>
<path d="M464.7,615.0 C464.7,593.9 461.0,584.6 462.3,568.2 C463.2,586.9 473.6,591.6 473.6,615.0 Z" fill="#c83a06" opacity="0.85"/>
<path d="M464.5,562.2 C464.5,530.5 480.1,516.5 482.3,491.9 C483.8,520.0 479.4,527.0 479.4,562.2 Z" fill="#c83a06" opacity="0.85"/>
<path d="M464.9,647.4 C464.9,619.1 476.5,606.5 478.8,584.5 C480.4,609.7 480.7,615.9 480.7,647.4 Z" fill="#c83a06" opacity="0.85"/>
<path d="M466.5,615.3 C466.5,593.5 465.0,583.8 467.4,566.8 C469.0,586.2 482.6,591.0 482.6,615.3 Z" fill="#c83a06" opacity="0.85"/>
<path d="M467.4,581.2 C467.4,547.7 484.8,532.8 487.0,506.8 C488.5,536.5 482.2,544.0 482.2,581.2 Z" fill="#c83a06" opacity="0.85"/>
<path d="M472.6,573.5 C472.6,553.8 489.2,545.0 490.7,529.7 C491.7,547.2 482.6,551.6 482.6,573.5 Z" fill="#c83a06" opacity="0.85"/>
<path d="M473.7,566.9 C473.7,541.7 470.6,530.5 473.0,510.9 C474.7,533.3 490.1,538.9 490.1,566.9 Z" fill="#c83a06" opacity="0.85"/>
<path d="M477.9,572.1 C477.9,537.3 476.3,521.8 479.0,494.8 C480.7,525.7 495.5,533.4 495.5,572.1 Z" fill="#c83a06" opacity="0.85"/>
<path d="M480.5,595.0 C480.5,574.4 495.8,565.3 497.8,549.4 C499.2,567.6 493.9,572.2 493.9,595.0 Z" fill="#c83a06" opacity="0.85"/>
<path d="M480.6,574.9 C480.6,557.2 480.7,549.3 483.3,535.5 C485.0,551.2 498.0,555.2 498.0,574.9 Z" fill="#c83a06" opacity="0.85"/>
<path d="M457.1,629.1 C457.1,617.0 455.7,611.6 459.0,602.1 C461.1,612.9 478.7,615.6 478.7,629.1 Z" fill="#c83a06" opacity="0.85"/>
<path d="M461.3,603.7 C461.3,580.9 469.1,570.8 471.1,553.1 C472.5,573.3 474.7,578.4 474.7,603.7 Z" fill="#c83a06" opacity="0.85"/>
<path d="M437.3,674.8 C437.3,653.8 442.1,644.5 444.9,628.2 C446.8,646.8 456.2,651.5 456.2,674.8 Z" fill="#c83a06" opacity="0.85"/>
<path d="M461.7,562.1 C461.7,546.3 460.7,539.3 463.9,527.1 C466.1,541.1 483.1,544.6 483.1,562.1 Z" fill="#c83a06" opacity="0.85"/>
<path d="M468.9,595.4 C468.9,580.4 463.7,573.7 466.2,562.0 C467.8,575.4 485.6,578.7 485.6,595.4 Z" fill="#c83a06" opacity="0.85"/>
<path d="M479.5,620.5 C479.5,584.8 486.8,568.9 488.6,541.1 C489.8,572.9 491.6,580.8 491.6,620.5 Z" fill="#c83a06" opacity="0.85"/>
<path d="M443.3,695.4 C443.3,678.2 462.9,670.6 466.0,657.3 C468.1,672.5 464.2,676.3 464.2,695.4 Z" fill="#c83a06" opacity="0.85"/>
<path d="M454.8,638.1 C454.8,619.5 464.1,611.2 466.2,596.8 C467.7,613.3 469.1,617.5 469.1,638.1 Z" fill="#e05a08" opacity="0.85"/>
<path d="M605.0,623.2 C605.0,593.0 616.9,579.5 618.5,556.0 C619.5,582.9 615.3,589.6 615.3,623.2 Z" fill="#e05a08" opacity="0.85"/>
<path d="M596.8,606.3 C596.8,577.9 615.3,565.3 618.6,543.3 C620.7,568.5 618.3,574.8 618.3,606.3 Z" fill="#e05a08" opacity="0.85"/>
<path d="M419.4,721.8 C419.4,691.9 438.3,678.6 440.9,655.4 C442.6,682.0 436.8,688.6 436.8,721.8 Z" fill="#e05a08" opacity="0.85"/>
<path d="M589.0,572.6 C589.0,560.5 603.7,555.2 606.0,545.8 C607.4,556.5 603.9,559.2 603.9,572.6 Z" fill="#e05a08" opacity="0.85"/>
<path d="M466.5,651.3 C466.5,630.7 487.1,621.5 490.3,605.5 C492.5,623.8 488.4,628.4 488.4,651.3 Z" fill="#e05a08" opacity="0.85"/>
<path d="M439.8,699.5 C439.8,688.3 438.8,683.2 441.8,674.4 C443.8,684.5 460.0,687.0 460.0,699.5 Z" fill="#e05a08" opacity="0.85"/>
<path d="M472.5,626.9 C472.5,603.8 483.7,593.5 485.7,575.5 C487.0,596.1 485.5,601.2 485.5,626.9 Z" fill="#e05a08" opacity="0.85"/>
<path d="M620.9,650.6 C620.9,630.4 624.3,621.4 626.1,605.6 C627.4,623.6 633.2,628.1 633.2,650.6 Z" fill="#e05a08" opacity="0.85"/>
<path d="M608.1,626.4 C608.1,599.1 600.1,586.9 602.5,565.7 C604.1,590.0 624.3,596.0 624.3,626.4 Z" fill="#e05a08" opacity="0.85"/>
<path d="M603.3,626.1 C603.3,611.1 606.6,604.5 609.1,592.9 C610.8,606.2 619.8,609.5 619.8,626.1 Z" fill="#e05a08" opacity="0.85"/>
<path d="M437.2,710.6 C437.2,695.2 430.3,688.3 432.4,676.3 C433.9,690.0 451.6,693.5 451.6,710.6 Z" fill="#e05a08" opacity="0.85"/>
<path d="M482.7,628.2 C482.7,593.9 484.4,578.6 485.8,551.9 C486.7,582.4 491.8,590.1 491.8,628.2 Z" fill="#e05a08" opacity="0.85"/>
<path d="M474.4,648.2 C474.4,620.8 493.1,608.6 496.2,587.3 C498.3,611.6 495.0,617.7 495.0,648.2 Z" fill="#f07810" opacity="0.85"/>
<path d="M407.5,743.5 C407.5,726.5 422.4,719.0 425.4,705.8 C427.3,720.9 426.9,724.6 426.9,743.5 Z" fill="#f07810" opacity="0.85"/>
<path d="M480.9,666.0 C480.9,641.3 472.9,630.3 475.3,611.1 C476.9,633.1 496.9,638.6 496.9,666.0 Z" fill="#f07810" opacity="0.85"/>
<path d="M460.4,679.9 C460.4,651.0 477.6,638.2 479.8,615.8 C481.2,641.4 474.6,647.8 474.6,679.9 Z" fill="#f07810" opacity="0.85"/>
<path d="M442.9,724.8 C442.9,708.6 438.3,701.4 439.5,688.8 C440.3,703.2 451.2,706.8 451.2,724.8 Z" fill="#f07810" opacity="0.85"/>
<path d="M481.4,641.6 C481.4,626.8 479.0,620.2 480.3,608.6 C481.2,621.8 490.3,625.1 490.3,641.6 Z" fill="#f07810" opacity="0.85"/>
<path d="M582.1,586.0 C582.1,565.5 588.3,556.4 589.6,540.4 C590.4,558.7 590.6,563.2 590.6,586.0 Z" fill="#f07810" opacity="0.85"/>
<path d="M586.2,567.3 C586.2,546.9 598.8,537.8 602.0,522.0 C604.1,540.1 607.3,544.6 607.3,567.3 Z" fill="#f07810" opacity="0.85"/>
<path d="M479.8,666.6 C479.8,654.0 478.1,648.4 479.6,638.6 C480.6,649.8 489.7,652.6 489.7,666.6 Z" fill="#f07810" opacity="0.85"/>
<path d="M556.9,565.8 C556.9,530.3 570.2,514.5 573.5,486.9 C575.7,518.5 578.9,526.4 578.9,565.8 Z" fill="#f07810" opacity="0.85"/>
<path d="M570.7,579.8 C570.7,548.3 564.6,534.3 566.5,509.7 C567.7,537.8 583.0,544.8 583.0,579.8 Z" fill="#f07810" opacity="0.85"/>
<path d="M440.8,725.1 C440.8,694.5 451.1,680.9 453.5,657.1 C455.1,684.3 456.9,691.1 456.9,725.1 Z" fill="#f07810" opacity="0.85"/>
<path d="M483.9,651.7 C483.9,625.8 489.5,614.2 492.4,594.1 C494.4,617.1 503.5,622.9 503.5,651.7 Z" fill="#f07810" opacity="0.85"/>
<path d="M503.5,586.7 C503.5,552.8 506.7,537.8 508.9,511.4 C510.3,541.5 517.9,549.1 517.9,586.7 Z" fill="#f07810" opacity="0.85"/>
<path d="M409.1,774.5 C409.1,761.6 403.9,755.9 406.5,746.0 C408.3,757.4 426.7,760.2 426.7,774.5 Z" fill="#f07810" opacity="0.85"/>
<path d="M523.0,566.6 C523.0,532.0 540.2,516.6 542.8,489.7 C544.5,520.4 540.1,528.1 540.1,566.6 Z" fill="#f07810" opacity="0.85"/>
<path d="M597.7,613.8 C597.7,602.5 596.2,597.5 598.3,588.7 C599.7,598.7 611.3,601.2 611.3,613.8 Z" fill="#f07810" opacity="0.85"/>
<path d="M621.9,701.3 C621.9,687.5 613.0,681.3 614.4,670.6 C615.4,682.9 631.3,685.9 631.3,701.3 Z" fill="#f07810" opacity="0.85"/>
<path d="M507.6,613.1 C507.6,586.7 509.0,574.9 510.9,554.4 C512.2,577.9 520.5,583.7 520.5,613.1 Z" fill="#f07810" opacity="0.85"/>
<path d="M604.9,666.3 C604.9,639.7 608.8,627.9 610.9,607.2 C612.3,630.8 618.9,636.7 618.9,666.3 Z" fill="#f89418" opacity="0.85"/>
<path d="M619.8,776.3 C619.8,750.0 635.3,738.3 637.2,717.9 C638.5,741.2 632.7,747.1 632.7,776.3 Z" fill="#f89418" opacity="0.85"/>
<path d="M628.9,715.8 C628.9,700.5 645.6,693.7 646.9,681.9 C647.8,695.4 637.6,698.8 637.6,715.8 Z" fill="#f89418" opacity="0.85"/>
<path d="M499.4,617.4 C499.4,602.2 496.2,595.4 498.0,583.5 C499.2,597.1 511.4,600.5 511.4,617.4 Z" fill="#f89418" opacity="0.85"/>
<path d="M621.6,672.0 C621.6,637.3 632.0,622.0 633.4,595.0 C634.3,625.8 630.6,633.5 630.6,672.0 Z" fill="#f89418" opacity="0.85"/>
<path d="M507.8,591.2 C507.8,567.7 505.2,557.3 507.6,539.0 C509.2,559.9 523.8,565.1 523.8,591.2 Z" fill="#f89418" opacity="0.85"/>
<path d="M608.7,733.5 C608.7,709.0 618.9,698.2 622.2,679.2 C624.3,700.9 630.3,706.3 630.3,733.5 Z" fill="#f89418" opacity="0.85"/>
<path d="M442.5,762.5 C442.5,727.2 445.0,711.4 447.4,683.9 C448.9,715.4 458.2,723.2 458.2,762.5 Z" fill="#f89418" opacity="0.85"/>
<path d="M439.0,750.3 C439.0,723.1 452.4,711.0 455.6,689.8 C457.7,714.0 460.3,720.0 460.3,750.3 Z" fill="#f89418" opacity="0.85"/>
<path d="M532.0,594.3 C532.0,559.0 526.7,543.2 529.4,515.7 C531.2,547.2 549.8,555.0 549.8,594.3 Z" fill="#f89418" opacity="0.85"/>
<path d="M604.8,668.9 C604.8,648.0 602.4,638.6 604.1,622.3 C605.2,641.0 615.8,645.6 615.8,668.9 Z" fill="#f89418" opacity="0.85"/>
<path d="M530.2,563.0 C530.2,545.0 545.5,536.9 548.7,522.9 C550.8,538.9 551.3,543.0 551.3,563.0 Z" fill="#f89418" opacity="0.85"/>
<path d="M581.6,597.6 C581.6,563.1 592.1,547.8 594.3,521.0 C595.8,551.6 596.3,559.3 596.3,597.6 Z" fill="#f89418" opacity="0.85"/>
<path d="M489.5,683.2 C489.5,664.1 481.3,655.6 482.9,640.8 C483.9,657.7 499.9,662.0 499.9,683.2 Z" fill="#f89418" opacity="0.85"/>
<path d="M613.9,666.6 C613.9,652.4 614.1,646.1 616.7,635.1 C618.4,647.7 631.2,650.9 631.2,666.6 Z" fill="#f89418" opacity="0.85"/>
<path d="M507.9,626.9 C507.9,594.7 500.6,580.3 502.9,555.2 C504.4,583.9 523.1,591.1 523.1,626.9 Z" fill="#f89418" opacity="0.85"/>
<path d="M563.9,611.8 C563.9,579.7 557.9,565.5 560.1,540.5 C561.5,569.0 578.6,576.1 578.6,611.8 Z" fill="#f89418" opacity="0.85"/>
<path d="M500.2,653.9 C500.2,618.3 499.4,602.5 501.6,574.8 C503.1,606.4 515.1,614.3 515.1,653.9 Z" fill="#f89418" opacity="0.85"/>
<path d="M517.7,601.8 C517.7,582.6 515.4,574.2 516.6,559.3 C517.5,576.3 526.1,580.5 526.1,601.8 Z" fill="#f89418" opacity="0.85"/>
<path d="M613.3,725.4 C613.3,698.5 608.9,686.6 611.8,665.7 C613.7,689.6 632.3,695.5 632.3,725.4 Z" fill="#f89418" opacity="0.85"/>
<path d="M556.7,579.3 C556.7,565.8 562.8,559.8 564.2,549.3 C565.2,561.3 566.5,564.3 566.5,579.3 Z" fill="#ffae24" opacity="0.85"/>
<path d="M496.7,646.4 C496.7,622.8 511.0,612.3 513.7,593.9 C515.5,614.9 514.5,620.1 514.5,646.4 Z" fill="#ffae24" opacity="0.85"/>
<path d="M554.8,560.8 C554.8,541.2 568.1,532.4 569.9,517.2 C571.1,534.6 567.2,539.0 567.2,560.8 Z" fill="#ffae24" opacity="0.85"/>
<path d="M535.6,631.4 C535.6,602.7 552.0,589.9 553.3,567.6 C554.2,593.1 544.4,599.5 544.4,631.4 Z" fill="#ffae24" opacity="0.85"/>
<path d="M616.3,754.3 C616.3,727.9 618.2,716.2 619.9,695.7 C621.0,719.1 627.5,725.0 627.5,754.3 Z" fill="#ffae24" opacity="0.85"/>
<path d="M503.7,580.6 C503.7,554.2 506.5,542.5 509.6,522.0 C511.7,545.4 524.5,551.3 524.5,580.6 Z" fill="#ffae24" opacity="0.85"/>
<path d="M496.8,687.1 C496.8,657.3 496.6,644.0 498.3,620.8 C499.5,647.3 508.2,654.0 508.2,687.1 Z" fill="#ffae24" opacity="0.85"/>
<path d="M498.3,655.1 C498.3,625.2 514.9,611.9 517.3,588.7 C518.9,615.2 514.1,621.9 514.1,655.1 Z" fill="#ffae24" opacity="0.85"/>
<path d="M582.4,593.7 C582.4,575.2 601.4,566.9 603.5,552.5 C605.0,569.0 596.7,573.1 596.7,593.7 Z" fill="#ffae24" opacity="0.85"/>
<path d="M543.8,614.4 C543.8,596.7 555.7,588.8 558.1,575.0 C559.6,590.8 559.4,594.7 559.4,614.4 Z" fill="#ffae24" opacity="0.85"/>
<path d="M582.3,622.3 C582.3,592.7 595.6,579.6 597.4,556.6 C598.6,582.9 594.0,589.4 594.0,622.3 Z" fill="#ffae24" opacity="0.85"/>
<path d="M540.5,619.5 C540.5,602.0 547.5,594.2 550.3,580.5 C552.1,596.1 559.0,600.0 559.0,619.5 Z" fill="#ffae24" opacity="0.85"/>
<path d="M514.8,613.0 C514.8,583.5 524.5,570.4 526.1,547.5 C527.1,573.7 525.3,580.2 525.3,613.0 Z" fill="#ffae24" opacity="0.85"/>
<path d="M489.4,683.2 C489.4,657.6 505.9,646.2 509.1,626.3 C511.2,649.1 510.9,654.7 510.9,683.2 Z" fill="#ffae24" opacity="0.85"/>
<path d="M528.8,629.5 C528.8,597.8 522.0,583.7 523.6,559.1 C524.8,587.2 540.0,594.3 540.0,629.5 Z" fill="#ffae24" opacity="0.85"/>
<path d="M492.7,680.6 C492.7,662.0 497.1,653.7 499.4,639.2 C500.9,655.8 508.1,659.9 508.1,680.6 Z" fill="#ffae24" opacity="0.85"/>
<path d="M430.9,762.8 C430.9,748.1 440.7,741.6 442.0,730.2 C442.9,743.3 439.7,746.5 439.7,762.8 Z" fill="#ffae24" opacity="0.85"/>
<path d="M552.8,597.8 C552.8,567.6 544.4,554.2 546.1,530.7 C547.2,557.5 563.9,564.3 563.9,597.8 Z" fill="#ffc63a" opacity="0.85"/>
<path d="M598.7,653.4 C598.7,621.7 602.5,607.6 605.7,583.0 C607.7,611.1 619.5,618.2 619.5,653.4 Z" fill="#ffc63a" opacity="0.85"/>
<path d="M558.3,659.7 C558.3,643.0 568.1,635.6 570.8,622.6 C572.6,637.5 575.9,641.2 575.9,659.7 Z" fill="#ffc63a" opacity="0.85"/>
<path d="M585.0,641.7 C585.0,611.2 595.8,597.7 598.5,574.0 C600.2,601.1 602.7,607.9 602.7,641.7 Z" fill="#ffc63a" opacity="0.85"/>
<path d="M564.0,584.4 C564.0,553.4 558.0,539.7 561.0,515.6 C563.0,543.1 584.0,550.0 584.0,584.4 Z" fill="#ffc63a" opacity="0.85"/>
<path d="M547.4,594.2 C547.4,570.4 556.2,559.8 559.3,541.3 C561.4,562.5 568.1,567.7 568.1,594.2 Z" fill="#ffc63a" opacity="0.85"/>
<path d="M525.0,644.9 C525.0,628.1 542.5,620.6 544.3,607.5 C545.5,622.5 537.1,626.2 537.1,644.9 Z" fill="#ffc63a" opacity="0.85"/>
<path d="M561.0,613.8 C561.0,600.7 553.8,594.9 555.6,584.7 C556.8,596.3 572.8,599.2 572.8,613.8 Z" fill="#ffc63a" opacity="0.85"/>
<path d="M577.3,701.0 C577.3,674.0 570.4,661.9 573.1,640.9 C574.9,664.9 595.4,671.0 595.4,701.0 Z" fill="#ffc63a" opacity="0.85"/>
<path d="M526.7,644.6 C526.7,616.5 521.5,604.0 524.3,582.2 C526.1,607.2 545.1,613.4 545.1,644.6 Z" fill="#ffc63a" opacity="0.85"/>
<path d="M434.4,763.4 C434.4,732.5 443.9,718.7 445.8,694.6 C447.0,722.1 446.9,729.0 446.9,763.4 Z" fill="#ffc63a" opacity="0.85"/>
<path d="M436.6,784.7 C436.6,763.0 439.8,753.4 441.6,736.5 C442.8,755.8 448.4,760.6 448.4,784.7 Z" fill="#ffc63a" opacity="0.85"/>
<path d="M518.7,601.8 C518.7,583.9 521.6,576.0 524.4,562.1 C526.3,578.0 537.3,581.9 537.3,601.8 Z" fill="#ffc63a" opacity="0.85"/>
<path d="M433.5,752.5 C433.5,733.9 428.3,725.7 431.2,711.2 C433.2,727.7 453.2,731.9 453.2,752.5 Z" fill="#ffc63a" opacity="0.85"/>
<path d="M578.2,691.2 C578.2,662.2 594.5,649.4 596.4,626.9 C597.6,652.6 590.5,659.0 590.5,691.2 Z" fill="#ffc63a" opacity="0.85"/>
<path d="M538.5,693.9 C538.5,664.4 531.9,651.2 534.0,628.2 C535.3,654.5 552.0,661.1 552.0,693.9 Z" fill="#ffc63a" opacity="0.85"/>
<path d="M607.2,777.2 C607.2,751.2 624.7,739.7 626.5,719.4 C627.6,742.6 618.8,748.3 618.8,777.2 Z" fill="#ffc63a" opacity="0.85"/>
<path d="M614.0,748.6 C614.0,729.5 625.0,721.0 628.0,706.1 C630.0,723.1 633.9,727.4 633.9,748.6 Z" fill="#ffc63a" opacity="0.85"/>
<path d="M549.6,587.5 C549.6,565.3 561.8,555.4 563.6,538.2 C564.8,557.9 561.7,562.9 561.7,587.5 Z" fill="#ffc63a" opacity="0.85"/>
<path d="M576.0,690.0 C576.0,657.0 577.5,642.4 579.0,616.7 C580.0,646.0 585.9,653.4 585.9,690.0 Z" fill="#ffc63a" opacity="0.85"/>
<path d="M542.2,584.4 C542.2,557.9 549.3,546.1 550.8,525.6 C551.8,549.1 552.2,555.0 552.2,584.4 Z" fill="#ffc63a" opacity="0.85"/>
<path d="M590.3,715.4 C590.3,685.9 588.0,672.8 590.5,649.8 C592.1,676.0 606.9,682.6 606.9,715.4 Z" fill="#ffc63a" opacity="0.85"/>
<path d="M598.6,747.6 C598.6,718.4 601.3,705.4 603.4,682.6 C604.8,708.6 612.4,715.1 612.4,747.6 Z" fill="#ffc63a" opacity="0.85"/>
<path d="M586.7,782.0 C586.7,749.7 589.7,735.4 592.2,710.3 C593.9,739.0 603.3,746.2 603.3,782.0 Z" fill="#ffc63a" opacity="0.85"/>
<path d="M583.0,698.0 C583.0,685.3 575.3,679.7 577.6,669.9 C579.1,681.1 598.0,683.9 598.0,698.0 Z" fill="#ffc63a" opacity="0.85"/>
<path d="M457.2,764.5 C457.2,746.3 476.0,738.2 478.5,724.0 C480.1,740.2 473.7,744.2 473.7,764.5 Z" fill="#ffc63a" opacity="0.85"/>
<path d="M613.5,770.1 C613.5,750.3 618.7,741.5 620.6,726.2 C621.9,743.7 626.4,748.1 626.4,770.1 Z" fill="#ffc63a" opacity="0.85"/>
<path d="M559.5,647.8 C559.5,630.5 574.1,622.8 575.9,609.3 C577.0,624.7 571.2,628.6 571.2,647.8 Z" fill="#ffc63a" opacity="0.85"/>
<path d="M505.2,679.5 C505.2,645.4 510.9,630.2 512.8,603.6 C514.0,634.0 517.4,641.6 517.4,679.5 Z" fill="#ffc63a" opacity="0.85"/>
<path d="M558.8,616.7 C558.8,593.9 569.7,583.9 572.6,566.2 C574.6,586.4 578.2,591.4 578.2,616.7 Z" fill="#ffc63a" opacity="0.85"/>
<path d="M500.0,717.0 C500.0,698.6 518.2,690.5 521.0,676.2 C522.9,692.5 519.0,696.6 519.0,717.0 Z" fill="#ffd85a" opacity="0.85"/>
<path d="M572.2,642.1 C572.2,623.9 584.9,615.8 587.1,601.7 C588.6,617.9 587.0,621.9 587.0,642.1 Z" fill="#ffd85a" opacity="0.85"/>
<path d="M438.3,760.4 C438.3,741.6 445.9,733.2 447.6,718.6 C448.8,735.3 450.1,739.5 450.1,760.4 Z" fill="#ffd85a" opacity="0.85"/>
<path d="M497.9,672.8 C497.9,659.4 509.9,653.4 511.7,642.9 C512.9,654.9 509.7,657.9 509.7,672.8 Z" fill="#ffd85a" opacity="0.85"/>
<path d="M587.7,700.8 C587.7,680.3 590.9,671.1 592.1,655.1 C592.9,673.4 595.9,678.0 595.9,700.8 Z" fill="#ffd85a" opacity="0.85"/>
<path d="M499.3,682.8 C499.3,668.7 501.6,662.4 504.0,651.4 C505.6,663.9 515.7,667.1 515.7,682.8 Z" fill="#ffd85a" opacity="0.85"/>
<path d="M541.0,650.9 C541.0,637.6 534.3,631.7 536.2,621.3 C537.4,633.1 553.3,636.1 553.3,650.9 Z" fill="#ffd85a" opacity="0.85"/>
<path d="M589.5,729.5 C589.5,717.8 592.4,712.6 595.2,703.5 C597.1,713.9 608.5,716.5 608.5,729.5 Z" fill="#ffd85a" opacity="0.85"/>
<path d="M511.4,663.6 C511.4,639.5 506.6,628.8 507.9,610.1 C508.8,631.5 520.2,636.8 520.2,663.6 Z" fill="#ffd85a" opacity="0.85"/>
<path d="M557.6,724.5 C557.6,706.7 561.1,698.7 564.0,684.8 C565.9,700.7 577.0,704.7 577.0,724.5 Z" fill="#ffd85a" opacity="0.85"/>
<path d="M566.9,668.7 C566.9,657.3 571.2,652.2 574.1,643.3 C575.9,653.5 585.7,656.0 585.7,668.7 Z" fill="#ffd85a" opacity="0.85"/>
<path d="M559.3,638.6 C559.3,609.1 562.0,596.0 564.9,573.0 C566.9,599.3 578.9,605.8 578.9,638.6 Z" fill="#ffd85a" opacity="0.85"/>
<path d="M557.1,664.0 C557.1,630.7 551.4,615.9 554.1,590.0 C555.9,619.6 575.2,627.0 575.2,664.0 Z" fill="#ffd85a" opacity="0.85"/>
<path d="M544.4,705.7 C544.4,676.1 555.1,662.9 556.6,639.9 C557.5,666.2 554.1,672.8 554.1,705.7 Z" fill="#ffd85a" opacity="0.85"/>
<path d="M539.9,668.1 C539.9,644.6 534.6,634.1 536.5,615.7 C537.8,636.7 552.5,641.9 552.5,668.1 Z" fill="#ffd85a" opacity="0.85"/>
<path d="M527.8,660.0 C527.8,646.7 544.7,640.7 546.5,630.3 C547.7,642.2 539.7,645.2 539.7,660.0 Z" fill="#ffd85a" opacity="0.85"/>
<path d="M600.0,730.9 C600.0,716.0 604.5,709.4 607.3,697.8 C609.2,711.0 619.0,714.3 619.0,730.9 Z" fill="#ffd85a" opacity="0.85"/>
<path d="M551.3,694.4 C551.3,666.0 545.4,653.4 548.1,631.4 C549.9,656.6 569.5,662.9 569.5,694.4 Z" fill="#ffd85a" opacity="0.85"/>
<path d="M508.1,706.0 C508.1,670.6 498.7,654.8 499.9,627.3 C500.7,658.8 516.2,666.6 516.2,706.0 Z" fill="#ffd85a" opacity="0.85"/>
<path d="M520.8,695.6 C520.8,661.2 513.0,645.8 515.0,619.0 C516.3,649.7 534.0,657.3 534.0,695.6 Z" fill="#ffd85a" opacity="0.85"/>
<path d="M525.4,713.6 C525.4,695.3 517.0,687.1 518.4,672.9 C519.3,689.2 534.5,693.2 534.5,713.6 Z" fill="#ffd85a" opacity="0.85"/>
<path d="M592.1,782.0 C592.1,763.6 600.7,755.4 603.9,741.1 C606.1,757.5 613.6,761.6 613.6,782.0 Z" fill="#ffe98a" opacity="0.85"/>
<path d="M538.2,643.7 C538.2,614.8 558.2,602.0 561.3,579.5 C563.5,605.2 559.3,611.6 559.3,643.7 Z" fill="#ffe98a" opacity="0.85"/>
<path d="M542.3,720.0 C542.3,696.9 546.4,686.6 549.5,668.5 C551.6,689.1 563.1,694.3 563.1,720.0 Z" fill="#ffe98a" opacity="0.85"/>
<path d="M602.2,762.8 C602.2,746.7 614.3,739.5 615.5,727.0 C616.3,741.3 610.4,744.9 610.4,762.8 Z" fill="#ffe98a" opacity="0.85"/>
<path d="M565.1,667.6 C565.1,646.5 581.6,637.1 584.9,620.6 C587.0,639.4 586.9,644.1 586.9,667.6 Z" fill="#ffe98a" opacity="0.85"/>
<path d="M493.1,705.4 C493.1,685.1 500.5,676.0 502.7,660.2 C504.2,678.3 507.8,682.8 507.8,705.4 Z" fill="#ffe98a" opacity="0.85"/>
<path d="M583.8,726.4 C583.8,695.2 602.0,681.4 604.7,657.2 C606.5,684.9 601.8,691.8 601.8,726.4 Z" fill="#ffe98a" opacity="0.85"/>
<path d="M552.1,716.6 C552.1,692.0 555.0,681.1 557.8,662.1 C559.8,683.9 571.3,689.3 571.3,716.6 Z" fill="#ffe98a" opacity="0.85"/>
<path d="M529.0,732.6 C529.0,720.7 521.7,715.4 523.0,706.1 C523.9,716.7 537.7,719.4 537.7,732.6 Z" fill="#ffe98a" opacity="0.85"/>
<path d="M568.8,700.8 C568.8,669.8 583.0,656.1 586.1,632.0 C588.3,659.5 590.0,666.4 590.0,700.8 Z" fill="#ffe98a" opacity="0.85"/>
<path d="M541.7,670.0 C541.7,649.4 553.9,640.2 556.4,624.2 C558.1,642.5 558.5,647.1 558.5,670.0 Z" fill="#ffe98a" opacity="0.85"/>
<path d="M487.9,744.0 C487.9,731.5 482.4,725.9 485.6,716.1 C487.8,727.3 509.6,730.1 509.6,744.0 Z" fill="#ffe98a" opacity="0.85"/>
<path d="M548.7,756.6 C548.7,721.2 556.7,705.5 559.9,677.9 C562.1,709.4 570.1,717.3 570.1,756.6 Z" fill="#ffe98a" opacity="0.85"/>
<path d="M491.6,780.6 C491.6,757.2 497.4,746.9 500.1,728.7 C501.9,749.5 509.8,754.7 509.8,780.6 Z" fill="#ffe98a" opacity="0.85"/>
<path d="M544.3,747.8 C544.3,716.7 559.0,702.8 561.1,678.6 C562.5,706.3 558.3,713.2 558.3,747.8 Z" fill="#ffe98a" opacity="0.85"/>
<path d="M547.4,779.8 C547.4,748.3 554.3,734.2 555.8,709.7 C556.8,737.7 557.3,744.8 557.3,779.8 Z" fill="#ffe98a" opacity="0.85"/>
<path d="M545.7,743.7 C545.7,723.3 551.9,714.3 553.4,698.4 C554.4,716.5 555.7,721.1 555.7,743.7 Z" fill="#fff4c0" opacity="0.85"/>
<path d="M511.5,782.5 C511.5,761.7 507.4,752.5 510.6,736.3 C512.7,754.8 532.5,759.4 532.5,782.5 Z" fill="#fff4c0" opacity="0.85"/>
<path d="M531.2,768.2 C531.2,735.8 521.6,721.3 523.2,696.1 C524.3,724.9 542.2,732.2 542.2,768.2 Z" fill="#fff4c0" opacity="0.85"/>
<path d="M565.2,725.5 C565.2,710.2 574.0,703.4 575.7,691.5 C576.8,705.1 576.6,708.5 576.6,725.5 Z" fill="#fff4c0" opacity="0.85"/>
<path d="M509.0,748.0 C509.0,735.8 501.4,730.4 503.0,720.9 C504.0,731.7 519.4,734.4 519.4,748.0 Z" fill="#fff4c0" opacity="0.85"/>
<path d="M499.7,758.2 C499.7,738.9 493.2,730.4 496.1,715.4 C498.0,732.5 518.8,736.8 518.8,758.2 Z" fill="#fff4c0" opacity="0.85"/>
<path d="M515.0,760.7 C515.0,749.1 519.6,743.9 522.4,734.9 C524.3,745.2 533.9,747.8 533.9,760.7 Z" fill="#fff4c0" opacity="0.85"/>
<path d="M544.0,763.9 C544.0,736.9 533.7,725.0 534.9,704.0 C535.8,727.9 552.5,733.9 552.5,763.9 Z" fill="#fff4c0" opacity="0.85"/>
<path d="M527.8,731.7 C527.8,709.5 539.0,699.6 541.9,682.4 C543.8,702.1 547.2,707.0 547.2,731.7 Z" fill="#fff4c0" opacity="0.85"/>
<path d="M536.1,728.4 C536.1,716.2 538.9,710.8 540.6,701.4 C541.8,712.2 547.6,714.9 547.6,728.4 Z" fill="#fff4c0" opacity="0.85"/>
</g>

<!-- logs -->
<g opacity="0.92" transform="translate(0,8)">
  <rect x="376" y="752" width="50" height="14" rx="6" transform="rotate(-17 400 759)" fill="#c8a8a6"/>
  <rect x="416" y="742" width="70" height="22" rx="9" transform="rotate(-24 451 753)" fill="#dcc4c0"/>
  <rect x="450" y="748" width="76" height="24" rx="10" transform="rotate(10 488 760)" fill="#d6bab6"/>
  <rect x="500" y="755" width="66" height="20" rx="9" transform="rotate(-6 533 765)" fill="#e2ccc6"/>
  <rect x="542" y="753" width="76" height="17" rx="8" transform="rotate(14 580 762)" fill="#c9aaa6"/>
  <ellipse cx="476" cy="770" rx="9" ry="8" fill="#44393a"/>
</g>
<g stroke="#8a5a56" stroke-width="0.9" fill="none" opacity="0.75" transform="translate(0,8)">
  <path d="M384,764 L418,752"/><path d="M388,758 L414,749"/><path d="M426,760 L472,740"/><path d="M432,766 L478,748"/>
  <path d="M455,752 L520,764"/><path d="M458,760 L518,772"/><path d="M505,762 L560,758"/><path d="M548,754 L612,770"/><path d="M548,760 L608,775"/>
</g>
<g filter="url(#flameS)" opacity="0.75" transform="translate(0,6)">
  <path d="M430,772 C440,742 455,735 465,748 C476,732 496,728 506,748 C518,736 536,742 542,762 L430,782 Z" fill="#ffc040"/>
  <path d="M520,770 C528,745 545,740 555,752 C565,742 578,746 582,760 L520,778 Z" fill="#ffd060"/>
  <path d="M380,785 C386,770 395,765 402,772 C408,764 416,768 418,780 L380,790 Z" fill="#ff9a20"/>
</g>

<!-- firebox blue outlines -->
<g fill="#1212f0">
  <polygon points="441,518 645,499 648,510 441,530"/>
  <rect x="448" y="528" width="5.5" height="66"/>
  <polygon points="379,598 459,590 459,596 381,604"/>
  <polygon points="371,548 375,548 383,600 379,600"/>
  <rect x="640" y="500" width="8" height="282"/>
  <polygon points="423,798 447,797 447,806 645,774 648,775 648,782 450,814 445,814 423,808"/>
  <polygon points="370,822 443,813 443,817 370,826"/>
  <rect x="443" y="806" width="5" height="90"/>
</g>
<!-- ============ BASE ============ -->
<polygon points="370,826 443,817 443,866 412,873 370,888" fill="#5f6163"/>
<polygon points="370,826 443,817 443,828 370,838" fill="#454648"/>
<polygon points="448,814 648,779 648,849 640,849 614,829 448,857" fill="#4f5153"/>
<polygon points="614,829 648,822 648,849 640,849" fill="#353638"/>
<polygon points="412,873 443,866 443,895 438,895" fill="#3e3f41"/>
<!-- ash box -->
<polygon points="205,832 358,883 358,902 300,884 205,857" fill="#38393b"/>
<polygon points="296,868 358,882 358,897 298,900" fill="#535456"/>
<polygon points="195,858 298,881 299,926 195,890" fill="#3b3c3e"/>
<polygon points="188,849 300,873 300,883 189,859" fill="#37383a"/>
<polygon points="188,849 300,873 300,875 188,851" fill="#4a4b4d"/>
<polygon points="283,880 295,882 295,918 289,917" fill="#2c2d2f"/>
<polygon points="296,876 300,876 300,926 297,926" fill="#2a2b2d"/>

<!-- ============ FRONT DOOR ============ -->
<polygon points="354,504 359,505 359,888 354,887" fill="#3a3b3d"/>
<polygon points="357,548 373,548 373,888 357,887" fill="#4c4d4f"/>
<path d="M131,470 Q131,462 139,462 L350,500 Q356,502 356,508 L356,884 L131,809 Z" fill="#474849"/>
<polygon points="136,486 346,524 346,531 136,494" fill="#3c3d3f"/>
<path d="M138,478 L348,514 L348,872 L138,800 Z" fill="none" stroke="#2a2b2d" stroke-width="1.5"/>
<path d="M142,486 L344,522 L344,866 L142,796 Z" fill="none" stroke="#262728" stroke-width="1.4" stroke-dasharray="1.4 1.6"/>
<path d="M142,500 L320,533" fill="none" stroke="#262728" stroke-width="1.4" stroke-dasharray="1.4 1.6"/>
<!-- top vent rail -->
<polygon points="144,514 303,545 303,556 144,525" fill="#3a3b3d"/>
<g fill="#141414">
  <rect x="150" y="515" width="7" height="4" transform="rotate(11 150 515)"/>
  <rect x="165" y="518" width="5" height="4" transform="rotate(11 165 518)"/>
  <rect x="180" y="521" width="5" height="4" transform="rotate(11 180 521)"/>
  <rect x="195" y="524" width="5" height="4" transform="rotate(11 195 524)"/>
  <rect x="210" y="527" width="5" height="4" transform="rotate(11 210 527)"/>
  <rect x="222" y="530" width="12" height="3" transform="rotate(11 222 530)"/>
  <rect x="240" y="533" width="5" height="4" transform="rotate(11 240 533)"/>
  <rect x="255" y="536" width="5" height="4" transform="rotate(11 255 536)"/>
  <rect x="270" y="539" width="5" height="4" transform="rotate(11 270 539)"/>
  <rect x="285" y="542" width="5" height="4" transform="rotate(11 285 542)"/>
</g>
<!-- glass -->
<polygon points="147,541 303,572 303,790 147,746" fill="none" stroke="#5a5b5d" stroke-width="6" stroke-linejoin="round"/>
<polygon points="147,541 303,572 303,790 147,746" fill="url(#glassG)"/>
<polygon points="147,541 303,572 303,790 147,746" fill="none" stroke="#232426" stroke-width="1.6"/>

<!-- hinge column -->
<polygon points="327,540 344,544 344,866 327,860" fill="#2f3032"/>
<polygon points="325,540 327,540 327,860 325,859" fill="#47484a"/>
<!-- bottom vent ovals -->
<g fill="#161616">
  <ellipse cx="147" cy="777" rx="2.5" ry="5"/><ellipse cx="157" cy="781" rx="2.5" ry="5"/>
  <ellipse cx="167" cy="784" rx="2.5" ry="5"/><ellipse cx="177" cy="787" rx="2.5" ry="5"/>
  <ellipse cx="187" cy="790" rx="2.5" ry="5"/><ellipse cx="197" cy="793" rx="2.5" ry="5"/>
  <ellipse cx="207" cy="796" rx="2.5" ry="5"/>
  <rect x="213" y="798" width="14" height="4" transform="rotate(16 213 798)"/>
  <ellipse cx="235" cy="804" rx="2.5" ry="5"/><ellipse cx="245" cy="807" rx="2.5" ry="5"/>
  <ellipse cx="255" cy="810" rx="2.5" ry="5"/><ellipse cx="265" cy="813" rx="2.5" ry="5"/>
  <ellipse cx="275" cy="816" rx="2.5" ry="5"/><ellipse cx="285" cy="819" rx="2.5" ry="5"/>
  <ellipse cx="295" cy="822" rx="2.5" ry="5"/>
</g>
<!-- hinges -->
<g fill="#262729">
  <rect x="318" y="565" width="38" height="14" rx="4"/><rect x="326" y="578" width="30" height="13" rx="4"/>
  <rect x="318" y="810" width="38" height="14" rx="4"/><rect x="326" y="823" width="30" height="13" rx="4"/>
</g>
<g fill="#4a4b4d">
  <rect x="317" y="566" width="32" height="11" rx="3"/><rect x="327" y="580" width="27" height="9" rx="3"/>
  <rect x="317" y="811" width="32" height="11" rx="3"/><rect x="327" y="825" width="27" height="9" rx="3"/>
</g>
<!-- handle -->
<g fill="#313234">
  <path d="M104,639 L118,634 L120,654 L104,656 Z"/>
  <path d="M113,640 Q113,628 124,628 L134,628 L135,657 L124,657 Q113,657 113,646 Z"/>
  <rect x="94" y="634" width="11" height="110" rx="5"/>
</g>
<rect x="96" y="637" width="2" height="104" fill="#444547"/>
<defs>
<linearGradient id="ag0" gradientUnits="userSpaceOnUse" x1="629" y1="46" x2="616" y2="4"><stop offset="0" stop-color="#dbe9f7" stop-opacity="0.55"/><stop offset="0.35" stop-color="#dbe9f7" stop-opacity="0.8"/><stop offset="0.8" stop-color="#7fb5ea" stop-opacity="0.95"/><stop offset="1" stop-color="#7fb5ea"/></linearGradient>
<linearGradient id="ag1" gradientUnits="userSpaceOnUse" x1="490" y1="282" x2="481" y2="224"><stop offset="0" stop-color="#dbe9f7" stop-opacity="0.4"/><stop offset="0.35" stop-color="#dbe9f7" stop-opacity="0.8"/><stop offset="0.8" stop-color="#7fb5ea" stop-opacity="0.95"/><stop offset="1" stop-color="#7fb5ea"/></linearGradient>
<linearGradient id="ag2" gradientUnits="userSpaceOnUse" x1="510" y1="282" x2="501" y2="224"><stop offset="0" stop-color="#dbe9f7" stop-opacity="0.4"/><stop offset="0.35" stop-color="#dbe9f7" stop-opacity="0.8"/><stop offset="0.8" stop-color="#7fb5ea" stop-opacity="0.95"/><stop offset="1" stop-color="#7fb5ea"/></linearGradient>
<linearGradient id="ag3" gradientUnits="userSpaceOnUse" x1="296" y1="407" x2="288" y2="487"><stop offset="0" stop-color="#dbe9f7" stop-opacity="0.4"/><stop offset="0.35" stop-color="#dbe9f7" stop-opacity="0.8"/><stop offset="0.8" stop-color="#7fb5ea" stop-opacity="0.95"/><stop offset="1" stop-color="#7fb5ea"/></linearGradient>
<linearGradient id="ag4" gradientUnits="userSpaceOnUse" x1="378" y1="445" x2="371" y2="524"><stop offset="0" stop-color="#dbe9f7" stop-opacity="0.4"/><stop offset="0.35" stop-color="#dbe9f7" stop-opacity="0.8"/><stop offset="0.8" stop-color="#7fb5ea" stop-opacity="0.95"/><stop offset="1" stop-color="#7fb5ea"/></linearGradient>
<linearGradient id="ag5" gradientUnits="userSpaceOnUse" x1="588" y1="358" x2="662" y2="341"><stop offset="0" stop-color="#dbe9f7" stop-opacity="0.4"/><stop offset="0.35" stop-color="#dbe9f7" stop-opacity="0.8"/><stop offset="0.8" stop-color="#7fb5ea" stop-opacity="0.95"/><stop offset="1" stop-color="#7fb5ea"/></linearGradient>
<linearGradient id="ag6" gradientUnits="userSpaceOnUse" x1="640" y1="402" x2="724" y2="382"><stop offset="0" stop-color="#dbe9f7" stop-opacity="0.4"/><stop offset="0.35" stop-color="#dbe9f7" stop-opacity="0.8"/><stop offset="0.8" stop-color="#7fb5ea" stop-opacity="0.95"/><stop offset="1" stop-color="#7fb5ea"/></linearGradient>
<linearGradient id="ag7" gradientUnits="userSpaceOnUse" x1="456" y1="490" x2="448" y2="425"><stop offset="0" stop-color="#dbe9f7" stop-opacity="0.4"/><stop offset="0.35" stop-color="#dbe9f7" stop-opacity="0.8"/><stop offset="0.8" stop-color="#a4c9ee" stop-opacity="0.95"/><stop offset="1" stop-color="#a4c9ee"/></linearGradient>
<linearGradient id="ag8" gradientUnits="userSpaceOnUse" x1="788" y1="333" x2="855" y2="324"><stop offset="0" stop-color="#dbe9f7" stop-opacity="0.0"/><stop offset="0.35" stop-color="#dbe9f7" stop-opacity="0.8"/><stop offset="0.8" stop-color="#7fb5ea" stop-opacity="0.95"/><stop offset="1" stop-color="#7fb5ea"/></linearGradient>
<linearGradient id="ag9" gradientUnits="userSpaceOnUse" x1="798" y1="364" x2="861" y2="356"><stop offset="0" stop-color="#dbe9f7" stop-opacity="0.0"/><stop offset="0.35" stop-color="#dbe9f7" stop-opacity="0.8"/><stop offset="0.8" stop-color="#7fb5ea" stop-opacity="0.95"/><stop offset="1" stop-color="#7fb5ea"/></linearGradient>
<linearGradient id="ag10" gradientUnits="userSpaceOnUse" x1="481" y1="616" x2="477" y2="551"><stop offset="0" stop-color="#dbe9f7" stop-opacity="0.4"/><stop offset="0.35" stop-color="#dbe9f7" stop-opacity="0.8"/><stop offset="0.8" stop-color="#a4c9ee" stop-opacity="0.95"/><stop offset="1" stop-color="#a4c9ee"/></linearGradient>
<linearGradient id="ag11" gradientUnits="userSpaceOnUse" x1="484" y1="729" x2="477" y2="679"><stop offset="0" stop-color="#dbe9f7" stop-opacity="0.4"/><stop offset="0.35" stop-color="#dbe9f7" stop-opacity="0.8"/><stop offset="0.8" stop-color="#a4c9ee" stop-opacity="0.95"/><stop offset="1" stop-color="#a4c9ee"/></linearGradient>
<linearGradient id="ag12" gradientUnits="userSpaceOnUse" x1="533" y1="709" x2="524" y2="641"><stop offset="0" stop-color="#dbe9f7" stop-opacity="0.4"/><stop offset="0.35" stop-color="#dbe9f7" stop-opacity="0.8"/><stop offset="0.8" stop-color="#a4c9ee" stop-opacity="0.95"/><stop offset="1" stop-color="#a4c9ee"/></linearGradient>
<linearGradient id="ag13" gradientUnits="userSpaceOnUse" x1="594" y1="746" x2="590" y2="682"><stop offset="0" stop-color="#dbe9f7" stop-opacity="0.4"/><stop offset="0.35" stop-color="#dbe9f7" stop-opacity="0.8"/><stop offset="0.8" stop-color="#a4c9ee" stop-opacity="0.95"/><stop offset="1" stop-color="#a4c9ee"/></linearGradient>
<linearGradient id="ag14" gradientUnits="userSpaceOnUse" x1="624" y1="598" x2="613" y2="522"><stop offset="0" stop-color="#dbe9f7" stop-opacity="0.4"/><stop offset="0.35" stop-color="#dbe9f7" stop-opacity="0.8"/><stop offset="0.8" stop-color="#a4c9ee" stop-opacity="0.95"/><stop offset="1" stop-color="#a4c9ee"/></linearGradient>
<linearGradient id="ag15" gradientUnits="userSpaceOnUse" x1="92" y1="547" x2="165" y2="523"><stop offset="0" stop-color="#dbe9f7" stop-opacity="0.0"/><stop offset="0.35" stop-color="#dbe9f7" stop-opacity="0.8"/><stop offset="0.8" stop-color="#7fb5ea" stop-opacity="0.95"/><stop offset="1" stop-color="#7fb5ea"/></linearGradient>
<linearGradient id="ag16" gradientUnits="userSpaceOnUse" x1="194" y1="563" x2="276" y2="541"><stop offset="0" stop-color="#dbe9f7" stop-opacity="0.4"/><stop offset="0.35" stop-color="#dbe9f7" stop-opacity="0.8"/><stop offset="0.8" stop-color="#7fb5ea" stop-opacity="0.95"/><stop offset="1" stop-color="#7fb5ea"/></linearGradient>
<linearGradient id="ag17" gradientUnits="userSpaceOnUse" x1="133" y1="813" x2="185" y2="795"><stop offset="0" stop-color="#dbe9f7" stop-opacity="0.0"/><stop offset="0.35" stop-color="#dbe9f7" stop-opacity="0.8"/><stop offset="0.8" stop-color="#7fb5ea" stop-opacity="0.95"/><stop offset="1" stop-color="#7fb5ea"/></linearGradient>
<linearGradient id="ag18" gradientUnits="userSpaceOnUse" x1="199" y1="841" x2="275" y2="825"><stop offset="0" stop-color="#dbe9f7" stop-opacity="0.4"/><stop offset="0.35" stop-color="#dbe9f7" stop-opacity="0.8"/><stop offset="0.8" stop-color="#7fb5ea" stop-opacity="0.95"/><stop offset="1" stop-color="#7fb5ea"/></linearGradient>
<linearGradient id="ag19" gradientUnits="userSpaceOnUse" x1="368" y1="866" x2="446" y2="849"><stop offset="0" stop-color="#dbe9f7" stop-opacity="0.4"/><stop offset="0.35" stop-color="#dbe9f7" stop-opacity="0.8"/><stop offset="0.8" stop-color="#7fb5ea" stop-opacity="0.95"/><stop offset="1" stop-color="#7fb5ea"/></linearGradient>
<linearGradient id="ag20" gradientUnits="userSpaceOnUse" x1="503" y1="842" x2="565" y2="795"><stop offset="0" stop-color="#dbe9f7" stop-opacity="0.4"/><stop offset="0.35" stop-color="#dbe9f7" stop-opacity="0.8"/><stop offset="0.8" stop-color="#7fb5ea" stop-opacity="0.95"/><stop offset="1" stop-color="#7fb5ea"/></linearGradient>
<linearGradient id="ag21" gradientUnits="userSpaceOnUse" x1="722" y1="842" x2="662" y2="790"><stop offset="0" stop-color="#dbe9f7" stop-opacity="0.0"/><stop offset="0.35" stop-color="#dbe9f7" stop-opacity="0.8"/><stop offset="0.8" stop-color="#7fb5ea" stop-opacity="0.95"/><stop offset="1" stop-color="#7fb5ea"/></linearGradient>
<linearGradient id="ag22" gradientUnits="userSpaceOnUse" x1="430" y1="292" x2="414" y2="230"><stop offset="0" stop-color="#eab0b0" stop-opacity="0.0"/><stop offset="0.35" stop-color="#eab0b0" stop-opacity="0.8"/><stop offset="0.8" stop-color="#d83434" stop-opacity="0.95"/><stop offset="1" stop-color="#d83434"/></linearGradient>
<linearGradient id="ag23" gradientUnits="userSpaceOnUse" x1="429" y1="407" x2="413" y2="346"><stop offset="0" stop-color="#eab0b0" stop-opacity="0.0"/><stop offset="0.35" stop-color="#eab0b0" stop-opacity="0.8"/><stop offset="0.8" stop-color="#d83434" stop-opacity="0.95"/><stop offset="1" stop-color="#d83434"/></linearGradient>
<linearGradient id="ag24" gradientUnits="userSpaceOnUse" x1="429" y1="532" x2="413" y2="469"><stop offset="0" stop-color="#eab0b0" stop-opacity="0.0"/><stop offset="0.35" stop-color="#eab0b0" stop-opacity="0.8"/><stop offset="0.8" stop-color="#d83434" stop-opacity="0.95"/><stop offset="1" stop-color="#d83434"/></linearGradient>
<linearGradient id="ag25" gradientUnits="userSpaceOnUse" x1="661" y1="250" x2="648" y2="199"><stop offset="0" stop-color="#eab0b0" stop-opacity="0.0"/><stop offset="0.35" stop-color="#eab0b0" stop-opacity="0.8"/><stop offset="0.8" stop-color="#d83434" stop-opacity="0.95"/><stop offset="1" stop-color="#d83434"/></linearGradient>
<linearGradient id="ag26" gradientUnits="userSpaceOnUse" x1="666" y1="586" x2="655" y2="528"><stop offset="0" stop-color="#eab0b0" stop-opacity="0.0"/><stop offset="0.35" stop-color="#eab0b0" stop-opacity="0.8"/><stop offset="0.8" stop-color="#d83434" stop-opacity="0.95"/><stop offset="1" stop-color="#d83434"/></linearGradient>
<linearGradient id="ag27" gradientUnits="userSpaceOnUse" x1="669" y1="760" x2="658" y2="700"><stop offset="0" stop-color="#eab0b0" stop-opacity="0.0"/><stop offset="0.35" stop-color="#eab0b0" stop-opacity="0.8"/><stop offset="0.8" stop-color="#d83434" stop-opacity="0.95"/><stop offset="1" stop-color="#d83434"/></linearGradient>
</defs>
<g>
<path d="M634.7,45.6 L634.3,43.7 L633.8,41.9 L633.2,40.2 L632.6,38.5 L631.9,37.0 L631.1,35.5 L630.3,34.1 L629.5,32.8 L628.6,31.6 L627.7,30.4 L626.9,29.2 L626.0,28.1 L625.1,27.0 L624.3,25.9 L623.5,24.8 L622.7,23.7 L622.0,22.6 L621.3,21.5 L620.6,20.4 L620.0,19.2 L619.4,18.0 L619.0,16.8 L618.5,15.4 L618.2,14.0 L622.0,19.2 L616.0,4.0 L604.7,16.6 L613.1,14.8 L613.3,16.5 L613.6,18.2 L614.0,19.8 L614.5,21.4 L615.0,22.9 L615.6,24.4 L616.2,25.8 L616.8,27.2 L617.5,28.5 L618.1,29.8 L618.8,31.0 L619.5,32.3 L620.1,33.5 L620.7,34.7 L621.2,35.8 L621.7,37.0 L622.2,38.2 L622.6,39.3 L622.9,40.4 L623.2,41.6 L623.3,42.7 L623.4,43.9 L623.4,45.1 L623.3,46.4 Z" fill="url(#ag0)"/>
<path d="M495.0,283.5 L495.4,280.9 L495.7,278.5 L495.8,276.1 L495.8,273.7 L495.6,271.5 L495.2,269.3 L494.7,267.2 L494.2,265.2 L493.5,263.2 L492.8,261.2 L492.1,259.3 L491.3,257.4 L490.4,255.6 L489.6,253.7 L488.8,251.8 L488.0,249.9 L487.2,248.0 L486.4,246.1 L485.7,244.1 L485.0,242.1 L484.4,240.0 L483.9,237.9 L483.5,235.7 L483.1,233.4 L487.6,237.5 L481.0,224.0 L471.4,236.3 L478.5,233.8 L478.6,236.3 L478.9,238.8 L479.3,241.2 L479.7,243.5 L480.3,245.7 L480.8,247.9 L481.4,250.1 L482.1,252.1 L482.7,254.1 L483.4,256.1 L484.0,258.0 L484.6,259.9 L485.1,261.7 L485.6,263.5 L486.0,265.3 L486.4,267.0 L486.6,268.8 L486.7,270.4 L486.8,272.1 L486.7,273.8 L486.5,275.4 L486.2,277.1 L485.7,278.8 L485.0,280.5 Z" fill="url(#ag1)"/>
<path d="M515.0,283.5 L515.4,280.9 L515.7,278.5 L515.8,276.1 L515.8,273.7 L515.6,271.5 L515.2,269.3 L514.7,267.2 L514.2,265.2 L513.5,263.2 L512.8,261.2 L512.1,259.3 L511.3,257.4 L510.4,255.6 L509.6,253.7 L508.8,251.8 L508.0,249.9 L507.2,248.0 L506.4,246.1 L505.7,244.1 L505.0,242.1 L504.4,240.0 L503.9,237.9 L503.5,235.7 L503.1,233.4 L507.6,237.5 L501.0,224.0 L491.4,236.3 L498.5,233.8 L498.6,236.3 L498.9,238.8 L499.3,241.2 L499.7,243.5 L500.3,245.7 L500.8,247.9 L501.4,250.1 L502.1,252.1 L502.7,254.1 L503.4,256.1 L504.0,258.0 L504.6,259.9 L505.1,261.7 L505.6,263.5 L506.0,265.3 L506.4,267.0 L506.6,268.8 L506.7,270.4 L506.8,272.1 L506.7,273.8 L506.5,275.4 L506.2,277.1 L505.7,278.8 L505.0,280.5 Z" fill="url(#ag2)"/>
<path d="M291.1,404.0 L289.7,407.1 L288.5,410.2 L287.6,413.2 L286.9,416.3 L286.4,419.3 L286.1,422.3 L286.0,425.2 L286.0,428.2 L286.1,431.1 L286.3,434.0 L286.6,437.0 L287.0,439.9 L287.4,442.8 L287.8,445.7 L288.2,448.7 L288.5,451.6 L288.9,454.6 L289.1,457.7 L289.3,460.7 L289.4,463.8 L289.3,466.9 L289.2,470.1 L288.9,473.4 L288.4,476.6 L284.6,471.0 L288.0,487.0 L301.3,476.5 L293.4,477.7 L294.1,474.2 L294.7,470.7 L295.1,467.3 L295.3,464.0 L295.5,460.7 L295.5,457.4 L295.5,454.2 L295.4,451.1 L295.2,448.0 L295.1,445.0 L294.9,442.1 L294.8,439.2 L294.6,436.4 L294.6,433.6 L294.6,430.9 L294.8,428.3 L295.0,425.8 L295.3,423.3 L295.8,420.9 L296.5,418.6 L297.3,416.4 L298.2,414.2 L299.4,412.0 L300.9,410.0 Z" fill="url(#ag3)"/>
<path d="M373.1,442.0 L371.7,445.1 L370.5,448.2 L369.6,451.3 L368.9,454.4 L368.4,457.4 L368.1,460.5 L368.0,463.5 L368.0,466.5 L368.1,469.5 L368.4,472.5 L368.7,475.4 L369.1,478.4 L369.5,481.4 L369.9,484.3 L370.3,487.3 L370.7,490.3 L371.1,493.2 L371.4,496.2 L371.6,499.2 L371.8,502.2 L371.8,505.2 L371.7,508.2 L371.5,511.3 L371.1,514.3 L367.7,508.0 L371.0,524.0 L384.3,513.6 L376.1,515.3 L376.8,512.0 L377.2,508.7 L377.6,505.5 L377.7,502.2 L377.8,499.0 L377.8,495.9 L377.7,492.7 L377.6,489.6 L377.4,486.6 L377.2,483.6 L377.0,480.6 L376.8,477.7 L376.7,474.8 L376.7,472.0 L376.7,469.3 L376.8,466.6 L377.0,464.0 L377.4,461.5 L377.8,459.1 L378.5,456.7 L379.3,454.4 L380.3,452.2 L381.4,450.0 L382.9,448.0 Z" fill="url(#ag4)"/>
<path d="M587.0,363.6 L589.8,363.8 L592.6,363.8 L595.3,363.7 L598.0,363.4 L600.7,363.0 L603.3,362.5 L605.9,361.9 L608.4,361.2 L611.0,360.4 L613.5,359.5 L616.1,358.5 L618.6,357.6 L621.2,356.5 L623.8,355.5 L626.4,354.4 L629.1,353.3 L631.8,352.2 L634.5,351.1 L637.3,350.0 L640.1,349.0 L643.1,348.0 L646.0,347.0 L649.1,346.1 L652.2,345.3 L649.4,351.4 L662.0,341.0 L646.5,334.1 L651.2,340.3 L647.8,341.0 L644.6,341.7 L641.4,342.5 L638.3,343.3 L635.3,344.2 L632.4,345.1 L629.5,346.0 L626.7,346.9 L624.0,347.7 L621.3,348.6 L618.7,349.4 L616.1,350.2 L613.6,350.9 L611.1,351.6 L608.7,352.2 L606.3,352.6 L604.0,353.0 L601.7,353.3 L599.5,353.5 L597.3,353.6 L595.2,353.5 L593.1,353.3 L591.1,352.9 L589.0,352.4 Z" fill="url(#ag5)"/>
<path d="M638.5,407.5 L642.3,408.1 L646.0,408.5 L649.6,408.6 L653.1,408.5 L656.5,408.2 L659.8,407.6 L663.0,406.9 L666.1,406.0 L669.2,405.0 L672.2,403.9 L675.2,402.6 L678.2,401.3 L681.1,400.0 L684.0,398.6 L687.0,397.1 L689.9,395.7 L692.9,394.3 L695.9,392.9 L698.9,391.5 L702.0,390.2 L705.1,389.0 L708.3,387.9 L711.6,386.9 L715.0,385.9 L711.0,392.0 L724.0,382.0 L708.8,374.5 L713.9,381.0 L710.3,381.7 L706.7,382.6 L703.3,383.6 L699.9,384.7 L696.6,385.8 L693.4,387.0 L690.2,388.2 L687.1,389.5 L684.1,390.7 L681.1,391.9 L678.1,393.0 L675.2,394.1 L672.4,395.1 L669.5,396.0 L666.7,396.8 L663.9,397.5 L661.1,398.0 L658.3,398.4 L655.6,398.6 L652.8,398.6 L650.0,398.4 L647.2,398.0 L644.4,397.4 L641.5,396.5 Z" fill="url(#ag6)"/>
<path d="M461.5,491.6 L461.9,489.0 L462.2,486.5 L462.3,484.0 L462.3,481.5 L462.1,479.2 L461.8,476.9 L461.4,474.6 L460.9,472.4 L460.3,470.2 L459.7,468.0 L459.0,465.8 L458.3,463.7 L457.5,461.5 L456.7,459.3 L456.0,457.1 L455.2,454.9 L454.4,452.6 L453.7,450.3 L453.0,447.9 L452.4,445.5 L451.8,443.0 L451.3,440.4 L450.9,437.7 L450.5,434.9 L455.2,438.2 L448.0,425.0 L439.0,437.7 L445.4,435.2 L445.6,438.2 L445.8,441.1 L446.1,443.9 L446.5,446.7 L447.0,449.3 L447.5,451.9 L448.1,454.4 L448.6,456.8 L449.2,459.2 L449.7,461.4 L450.3,463.7 L450.8,465.8 L451.3,467.9 L451.7,470.0 L452.0,472.0 L452.3,474.0 L452.5,475.9 L452.5,477.7 L452.5,479.5 L452.4,481.3 L452.2,483.1 L451.8,484.9 L451.3,486.6 L450.5,488.4 Z" fill="url(#ag7)"/>
<path d="M787.6,337.7 L790.1,337.7 L792.7,337.7 L795.1,337.5 L797.5,337.3 L799.9,337.1 L802.2,336.8 L804.5,336.4 L806.7,336.0 L809.0,335.5 L811.2,335.0 L813.4,334.5 L815.6,333.9 L817.9,333.4 L820.1,332.8 L822.4,332.2 L824.7,331.5 L827.1,330.9 L829.5,330.3 L832.0,329.7 L834.5,329.1 L837.1,328.6 L839.8,328.0 L842.6,327.5 L845.4,327.1 L843.0,333.6 L855.0,324.0 L841.2,316.1 L844.9,322.8 L841.9,323.1 L839.1,323.5 L836.3,323.9 L833.6,324.3 L831.0,324.7 L828.4,325.1 L825.9,325.5 L823.5,326.0 L821.1,326.4 L818.8,326.8 L816.5,327.2 L814.3,327.6 L812.1,327.9 L809.9,328.2 L807.8,328.5 L805.7,328.7 L803.5,328.9 L801.4,329.0 L799.3,329.1 L797.2,329.1 L795.0,329.0 L792.9,328.9 L790.7,328.6 L788.4,328.3 Z" fill="url(#ag8)"/>
<path d="M798.0,368.8 L800.5,368.5 L802.9,368.3 L805.3,368.0 L807.6,367.7 L809.9,367.4 L812.1,367.0 L814.3,366.6 L816.5,366.1 L818.6,365.7 L820.8,365.2 L822.9,364.7 L825.0,364.2 L827.1,363.7 L829.2,363.2 L831.4,362.7 L833.5,362.2 L835.7,361.7 L837.9,361.2 L840.1,360.8 L842.4,360.3 L844.7,359.9 L847.1,359.5 L849.5,359.1 L852.1,358.7 L848.7,365.3 L861.0,356.0 L847.4,347.7 L851.6,354.5 L849.1,354.7 L846.5,354.9 L844.1,355.1 L841.7,355.4 L839.3,355.7 L837.0,356.0 L834.7,356.3 L832.5,356.6 L830.3,356.9 L828.1,357.3 L825.9,357.6 L823.8,357.9 L821.7,358.2 L819.6,358.4 L817.5,358.7 L815.4,358.9 L813.3,359.1 L811.2,359.3 L809.0,359.4 L806.9,359.5 L804.7,359.5 L802.5,359.5 L800.3,359.4 L798.0,359.2 Z" fill="url(#ag9)"/>
<path d="M486.5,617.3 L486.8,614.7 L487.1,612.1 L487.2,609.5 L487.1,607.0 L487.0,604.5 L486.8,602.0 L486.5,599.6 L486.2,597.2 L485.8,594.8 L485.3,592.4 L484.8,590.1 L484.3,587.7 L483.7,585.4 L483.2,583.1 L482.6,580.8 L482.1,578.4 L481.5,576.1 L481.0,573.8 L480.6,571.4 L480.1,569.1 L479.8,566.7 L479.5,564.3 L479.2,561.9 L479.1,559.4 L483.5,564.6 L477.0,551.0 L467.3,563.2 L474.0,559.5 L473.9,562.1 L474.0,564.7 L474.1,567.2 L474.2,569.8 L474.5,572.3 L474.7,574.8 L475.0,577.2 L475.3,579.7 L475.7,582.1 L476.0,584.4 L476.3,586.8 L476.6,589.1 L476.9,591.4 L477.1,593.7 L477.3,595.9 L477.5,598.1 L477.5,600.3 L477.5,602.4 L477.4,604.6 L477.3,606.6 L477.0,608.7 L476.6,610.7 L476.1,612.7 L475.5,614.7 Z" fill="url(#ag10)"/>
<path d="M489.5,730.4 L489.9,727.6 L490.2,724.8 L490.3,722.2 L490.3,719.8 L490.1,717.4 L489.9,715.1 L489.5,712.9 L489.1,710.8 L488.5,708.8 L487.9,706.9 L487.3,705.0 L486.6,703.3 L485.9,701.6 L485.1,700.0 L484.4,698.4 L483.7,696.9 L483.0,695.4 L482.3,693.9 L481.7,692.5 L481.1,691.1 L480.5,689.8 L480.1,688.4 L479.7,687.0 L479.3,685.7 L482.6,692.9 L477.0,679.0 L466.6,690.6 L474.3,686.3 L474.4,688.0 L474.7,689.7 L475.0,691.3 L475.4,693.0 L475.8,694.6 L476.3,696.2 L476.8,697.8 L477.3,699.4 L477.8,701.0 L478.3,702.6 L478.8,704.1 L479.2,705.7 L479.6,707.4 L479.9,709.0 L480.2,710.7 L480.4,712.3 L480.5,714.0 L480.6,715.8 L480.5,717.6 L480.4,719.5 L480.1,721.4 L479.7,723.4 L479.2,725.5 L478.5,727.6 Z" fill="url(#ag11)"/>
<path d="M538.6,710.2 L538.9,707.2 L539.0,704.2 L539.0,701.3 L538.9,698.5 L538.7,695.8 L538.3,693.1 L537.8,690.4 L537.3,687.8 L536.6,685.2 L535.9,682.7 L535.2,680.2 L534.4,677.7 L533.6,675.3 L532.8,672.9 L532.0,670.5 L531.2,668.1 L530.4,665.7 L529.7,663.3 L529.0,660.9 L528.3,658.5 L527.8,656.1 L527.2,653.7 L526.8,651.3 L526.5,648.8 L531.0,654.3 L524.0,641.0 L514.8,653.6 L521.4,649.2 L521.5,651.9 L521.8,654.5 L522.1,657.1 L522.5,659.7 L523.0,662.3 L523.5,664.9 L524.0,667.4 L524.6,669.9 L525.2,672.4 L525.8,674.9 L526.4,677.3 L526.9,679.8 L527.4,682.2 L527.9,684.6 L528.3,687.0 L528.6,689.3 L528.9,691.7 L529.0,694.0 L529.1,696.4 L529.0,698.7 L528.8,701.0 L528.5,703.3 L528.1,705.6 L527.4,707.8 Z" fill="url(#ag12)"/>
<path d="M599.6,746.9 L599.8,743.8 L599.9,740.9 L599.9,738.0 L599.8,735.2 L599.6,732.5 L599.3,729.9 L599.0,727.4 L598.6,725.0 L598.1,722.6 L597.6,720.3 L597.1,718.0 L596.5,715.8 L596.0,713.6 L595.4,711.4 L594.9,709.3 L594.4,707.2 L593.8,705.1 L593.4,703.0 L593.0,700.9 L592.6,698.8 L592.3,696.7 L592.0,694.5 L591.8,692.4 L591.7,690.1 L595.8,695.9 L590.0,682.0 L579.7,693.7 L586.6,690.0 L586.5,692.4 L586.5,694.8 L586.5,697.2 L586.7,699.5 L586.8,701.8 L587.1,704.0 L587.3,706.2 L587.6,708.5 L587.9,710.7 L588.3,712.9 L588.6,715.1 L588.9,717.2 L589.2,719.4 L589.5,721.6 L589.7,723.8 L589.8,726.1 L590.0,728.3 L590.0,730.6 L590.0,732.9 L589.9,735.2 L589.7,737.6 L589.4,740.1 L589.0,742.6 L588.4,745.1 Z" fill="url(#ag13)"/>
<path d="M629.6,599.2 L630.0,595.7 L630.2,592.3 L630.2,589.0 L630.1,585.8 L629.7,582.6 L629.3,579.6 L628.7,576.6 L628.0,573.6 L627.2,570.8 L626.4,568.0 L625.5,565.2 L624.5,562.5 L623.5,559.8 L622.5,557.1 L621.5,554.5 L620.6,551.8 L619.7,549.2 L618.8,546.5 L618.0,543.9 L617.2,541.2 L616.6,538.5 L616.0,535.7 L615.6,533.0 L615.3,530.1 L619.7,535.4 L613.0,522.0 L603.5,534.3 L610.2,530.4 L610.3,533.5 L610.5,536.5 L610.9,539.5 L611.4,542.4 L612.0,545.4 L612.6,548.2 L613.3,551.1 L614.1,553.9 L614.8,556.6 L615.6,559.4 L616.3,562.1 L617.1,564.8 L617.8,567.5 L618.4,570.1 L618.9,572.8 L619.4,575.5 L619.8,578.1 L620.0,580.7 L620.2,583.4 L620.2,586.0 L620.0,588.7 L619.7,591.4 L619.2,594.1 L618.4,596.8 Z" fill="url(#ag14)"/>
<path d="M93.4,552.5 L96.5,551.5 L99.5,550.5 L102.3,549.5 L105.2,548.4 L107.9,547.4 L110.5,546.4 L113.1,545.3 L115.7,544.3 L118.2,543.2 L120.6,542.2 L123.1,541.1 L125.5,540.0 L127.9,539.0 L130.3,537.9 L132.7,536.9 L135.1,535.8 L137.6,534.8 L140.0,533.8 L142.6,532.8 L145.1,531.8 L147.8,530.8 L150.5,529.8 L153.3,528.8 L156.2,527.9 L153.7,535.3 L165.0,523.0 L148.7,517.1 L154.8,523.0 L151.8,523.7 L148.9,524.5 L146.0,525.3 L143.2,526.1 L140.5,526.9 L137.9,527.8 L135.3,528.6 L132.7,529.4 L130.2,530.3 L127.7,531.1 L125.2,532.0 L122.7,532.8 L120.2,533.6 L117.7,534.4 L115.2,535.2 L112.7,536.0 L110.1,536.8 L107.5,537.5 L104.9,538.3 L102.2,539.0 L99.4,539.7 L96.6,540.3 L93.7,540.9 L90.6,541.5 Z" fill="url(#ag15)"/>
<path d="M193.6,568.7 L197.4,568.6 L201.0,568.4 L204.5,568.0 L207.9,567.4 L211.3,566.8 L214.5,566.0 L217.7,565.1 L220.8,564.1 L223.8,563.0 L226.8,561.9 L229.7,560.7 L232.6,559.4 L235.5,558.1 L238.3,556.8 L241.2,555.5 L244.0,554.2 L246.8,552.9 L249.7,551.6 L252.6,550.4 L255.5,549.2 L258.4,548.1 L261.4,547.0 L264.5,546.0 L267.6,545.1 L263.5,552.1 L276.0,541.0 L260.4,533.5 L266.4,540.2 L263.1,540.9 L259.8,541.7 L256.6,542.6 L253.5,543.6 L250.4,544.6 L247.3,545.7 L244.3,546.8 L241.4,547.9 L238.4,549.0 L235.5,550.1 L232.6,551.2 L229.7,552.2 L226.9,553.2 L224.0,554.1 L221.2,554.9 L218.3,555.7 L215.4,556.3 L212.5,556.9 L209.6,557.3 L206.6,557.6 L203.6,557.8 L200.6,557.8 L197.5,557.7 L194.4,557.3 Z" fill="url(#ag16)"/>
<path d="M135.2,818.3 L136.9,817.3 L138.6,816.3 L140.3,815.4 L141.9,814.5 L143.5,813.6 L145.1,812.7 L146.6,811.8 L148.1,810.9 L149.6,810.1 L151.1,809.2 L152.6,808.4 L154.1,807.6 L155.6,806.8 L157.1,806.0 L158.7,805.2 L160.2,804.5 L161.9,803.7 L163.5,803.0 L165.3,802.3 L167.1,801.7 L168.9,801.0 L170.8,800.4 L172.8,799.8 L174.9,799.2 L172.4,806.0 L185.0,795.0 L169.5,787.3 L173.9,794.2 L171.6,794.6 L169.5,795.0 L167.4,795.5 L165.3,796.0 L163.4,796.5 L161.5,797.0 L159.6,797.5 L157.8,798.1 L156.0,798.7 L154.3,799.3 L152.6,799.9 L150.9,800.5 L149.2,801.1 L147.6,801.7 L145.9,802.4 L144.3,803.0 L142.7,803.6 L141.0,804.3 L139.4,804.9 L137.8,805.5 L136.1,806.1 L134.4,806.7 L132.6,807.2 L130.8,807.7 Z" fill="url(#ag17)"/>
<path d="M198.3,846.7 L201.9,846.8 L205.5,846.8 L208.8,846.7 L212.1,846.4 L215.3,846.1 L218.3,845.5 L221.3,844.9 L224.1,844.2 L226.9,843.4 L229.6,842.5 L232.3,841.6 L234.9,840.6 L237.4,839.6 L240.0,838.6 L242.5,837.5 L245.0,836.4 L247.5,835.4 L250.0,834.3 L252.6,833.3 L255.2,832.3 L257.8,831.4 L260.5,830.5 L263.3,829.7 L266.2,828.9 L262.2,835.8 L275.0,825.0 L259.6,817.0 L265.2,823.9 L262.1,824.5 L259.1,825.2 L256.2,825.9 L253.4,826.7 L250.6,827.5 L247.9,828.3 L245.2,829.2 L242.6,830.0 L240.0,830.9 L237.5,831.7 L234.9,832.5 L232.4,833.3 L229.9,834.0 L227.3,834.6 L224.8,835.2 L222.2,835.6 L219.7,836.0 L217.0,836.3 L214.3,836.5 L211.6,836.6 L208.8,836.5 L205.8,836.3 L202.8,835.9 L199.7,835.3 Z" fill="url(#ag18)"/>
<path d="M367.6,871.7 L370.8,871.6 L374.0,871.4 L377.1,871.1 L380.2,870.7 L383.2,870.2 L386.1,869.6 L388.9,868.9 L391.8,868.1 L394.6,867.2 L397.3,866.3 L400.1,865.4 L402.8,864.4 L405.5,863.3 L408.2,862.3 L411.0,861.3 L413.7,860.2 L416.4,859.2 L419.2,858.1 L422.1,857.2 L424.9,856.2 L427.8,855.3 L430.8,854.4 L433.8,853.6 L436.9,852.9 L433.2,859.7 L446.0,849.0 L430.7,841.0 L436.0,847.9 L432.7,848.4 L429.5,849.0 L426.3,849.7 L423.3,850.5 L420.3,851.2 L417.3,852.1 L414.4,852.9 L411.5,853.7 L408.7,854.6 L405.9,855.4 L403.1,856.2 L400.4,857.0 L397.7,857.7 L395.0,858.4 L392.3,859.0 L389.7,859.6 L387.0,860.0 L384.4,860.4 L381.8,860.7 L379.1,860.9 L376.5,860.9 L373.8,860.9 L371.1,860.7 L368.4,860.3 Z" fill="url(#ag19)"/>
<path d="M503.0,847.7 L506.5,847.3 L509.8,846.6 L513.0,845.6 L516.0,844.3 L518.8,842.8 L521.4,841.1 L523.9,839.2 L526.2,837.2 L528.5,835.1 L530.6,832.9 L532.7,830.6 L534.7,828.2 L536.7,825.7 L538.7,823.3 L540.6,820.8 L542.5,818.4 L544.4,816.0 L546.4,813.6 L548.3,811.2 L550.3,809.0 L552.4,806.9 L554.5,804.8 L556.6,802.9 L558.9,801.2 L555.7,808.9 L565.0,795.0 L548.0,791.6 L556.0,797.0 L553.4,798.7 L550.9,800.6 L548.4,802.7 L546.1,804.8 L543.8,807.0 L541.6,809.3 L539.4,811.6 L537.3,814.0 L535.2,816.3 L533.1,818.6 L531.0,820.8 L528.9,823.0 L526.9,825.0 L524.8,827.0 L522.7,828.8 L520.6,830.5 L518.5,832.0 L516.4,833.2 L514.3,834.3 L512.1,835.2 L509.9,835.8 L507.7,836.3 L505.4,836.4 L503.0,836.3 Z" fill="url(#ag20)"/>
<path d="M727.3,840.0 L725.9,837.0 L724.5,834.0 L723.0,831.2 L721.4,828.4 L719.8,825.7 L718.1,823.1 L716.3,820.6 L714.5,818.2 L712.5,815.9 L710.5,813.7 L708.4,811.6 L706.2,809.5 L704.0,807.5 L701.6,805.7 L699.1,803.9 L696.6,802.1 L694.0,800.5 L691.2,798.9 L688.4,797.4 L685.4,796.0 L682.4,794.6 L679.3,793.3 L676.0,792.1 L672.6,790.9 L677.9,785.0 L662.0,790.0 L673.1,803.2 L670.8,795.7 L674.0,797.0 L677.0,798.4 L680.0,799.8 L682.7,801.3 L685.4,802.8 L687.9,804.4 L690.4,806.1 L692.7,807.7 L694.9,809.5 L696.9,811.3 L698.9,813.2 L700.8,815.1 L702.6,817.1 L704.3,819.1 L705.9,821.2 L707.4,823.4 L708.8,825.7 L710.2,828.0 L711.4,830.4 L712.6,833.0 L713.8,835.6 L714.8,838.3 L715.8,841.1 L716.7,844.0 Z" fill="url(#ag21)"/>
<path d="M435.6,293.0 L435.8,290.2 L435.8,287.5 L435.6,284.8 L435.3,282.2 L434.8,279.7 L434.2,277.3 L433.4,275.0 L432.6,272.7 L431.7,270.4 L430.7,268.3 L429.7,266.1 L428.6,264.0 L427.6,261.9 L426.5,259.8 L425.4,257.8 L424.3,255.7 L423.2,253.6 L422.2,251.5 L421.2,249.4 L420.2,247.2 L419.4,245.0 L418.6,242.8 L417.9,240.5 L417.3,238.2 L422.1,242.7 L414.0,230.0 L405.9,243.3 L412.3,239.1 L412.7,241.7 L413.3,244.3 L413.9,246.8 L414.6,249.2 L415.4,251.6 L416.3,254.0 L417.2,256.3 L418.0,258.5 L418.9,260.8 L419.8,262.9 L420.7,265.1 L421.6,267.2 L422.3,269.3 L423.1,271.3 L423.7,273.4 L424.3,275.4 L424.7,277.4 L425.1,279.3 L425.3,281.3 L425.4,283.2 L425.4,285.2 L425.2,287.1 L424.9,289.0 L424.4,291.0 Z" fill="url(#ag22)"/>
<path d="M434.6,408.0 L434.8,405.2 L434.8,402.5 L434.6,399.8 L434.3,397.2 L433.8,394.8 L433.2,392.3 L432.5,390.0 L431.6,387.7 L430.7,385.5 L429.8,383.3 L428.7,381.2 L427.7,379.1 L426.6,377.1 L425.5,375.0 L424.4,373.0 L423.3,370.9 L422.2,368.9 L421.2,366.8 L420.2,364.8 L419.3,362.7 L418.4,360.6 L417.6,358.4 L416.9,356.2 L416.3,354.0 L421.1,358.6 L413.0,346.0 L404.9,359.3 L411.3,354.9 L411.8,357.5 L412.3,359.9 L413.0,362.4 L413.7,364.8 L414.5,367.1 L415.3,369.4 L416.2,371.6 L417.1,373.8 L418.0,376.0 L418.9,378.1 L419.7,380.3 L420.6,382.3 L421.4,384.4 L422.1,386.4 L422.7,388.5 L423.3,390.5 L423.7,392.4 L424.1,394.4 L424.3,396.3 L424.4,398.3 L424.4,400.2 L424.2,402.1 L423.9,404.0 L423.4,406.0 Z" fill="url(#ag23)"/>
<path d="M434.6,533.0 L434.8,530.2 L434.8,527.4 L434.6,524.8 L434.3,522.2 L433.8,519.7 L433.2,517.3 L432.4,514.9 L431.6,512.6 L430.7,510.4 L429.7,508.2 L428.7,506.0 L427.6,503.9 L426.5,501.8 L425.4,499.7 L424.3,497.5 L423.2,495.4 L422.2,493.3 L421.1,491.1 L420.2,489.0 L419.2,486.8 L418.4,484.5 L417.6,482.2 L416.9,479.8 L416.3,477.4 L421.1,481.6 L413.0,469.0 L404.9,482.3 L411.3,478.3 L411.7,481.0 L412.2,483.6 L412.9,486.2 L413.6,488.7 L414.4,491.2 L415.2,493.6 L416.1,495.9 L417.0,498.2 L417.9,500.5 L418.8,502.7 L419.7,504.9 L420.5,507.0 L421.3,509.2 L422.0,511.2 L422.7,513.3 L423.3,515.3 L423.7,517.3 L424.1,519.3 L424.3,521.3 L424.4,523.2 L424.4,525.1 L424.2,527.1 L423.9,529.0 L423.4,531.0 Z" fill="url(#ag24)"/>
<path d="M666.6,250.8 L666.7,248.1 L666.6,245.6 L666.4,243.1 L666.0,240.8 L665.6,238.6 L665.0,236.5 L664.3,234.5 L663.6,232.6 L662.7,230.7 L661.9,229.0 L661.0,227.3 L660.0,225.6 L659.1,224.1 L658.2,222.5 L657.2,221.0 L656.3,219.5 L655.4,218.0 L654.6,216.5 L653.8,215.0 L653.1,213.5 L652.4,212.0 L651.8,210.4 L651.2,208.7 L650.8,207.0 L654.9,212.4 L648.0,199.0 L638.7,211.5 L645.8,207.9 L646.1,209.9 L646.5,211.9 L646.9,213.8 L647.5,215.7 L648.1,217.5 L648.8,219.2 L649.5,220.9 L650.2,222.6 L651.0,224.3 L651.7,225.9 L652.4,227.5 L653.1,229.1 L653.7,230.7 L654.3,232.3 L654.8,233.9 L655.3,235.4 L655.6,237.0 L655.9,238.6 L656.1,240.3 L656.2,242.0 L656.2,243.7 L656.1,245.5 L655.8,247.3 L655.4,249.2 Z" fill="url(#ag25)"/>
<path d="M671.6,586.9 L671.8,583.8 L671.8,580.8 L671.7,578.0 L671.4,575.3 L671.0,572.7 L670.5,570.2 L669.9,567.9 L669.2,565.6 L668.5,563.4 L667.6,561.4 L666.8,559.4 L665.9,557.4 L665.0,555.5 L664.1,553.7 L663.2,551.9 L662.3,550.2 L661.5,548.4 L660.7,546.7 L659.9,544.9 L659.3,543.2 L658.6,541.4 L658.1,539.6 L657.7,537.8 L657.3,535.9 L661.3,541.6 L655.0,528.0 L645.2,540.1 L652.3,536.3 L652.4,538.5 L652.7,540.7 L653.1,542.8 L653.6,544.9 L654.1,546.9 L654.7,548.9 L655.3,550.9 L656.0,552.8 L656.7,554.7 L657.4,556.6 L658.0,558.5 L658.7,560.3 L659.3,562.2 L659.8,564.1 L660.3,566.0 L660.7,567.9 L661.1,569.8 L661.3,571.8 L661.5,573.9 L661.5,576.0 L661.5,578.1 L661.3,580.4 L660.9,582.7 L660.4,585.1 Z" fill="url(#ag26)"/>
<path d="M674.6,760.9 L674.8,757.9 L674.8,755.0 L674.7,752.2 L674.4,749.6 L674.0,747.1 L673.5,744.6 L672.9,742.3 L672.2,740.1 L671.4,737.9 L670.6,735.9 L669.7,733.8 L668.9,731.9 L667.9,730.0 L667.0,728.1 L666.2,726.3 L665.3,724.4 L664.4,722.6 L663.6,720.7 L662.9,718.8 L662.2,716.9 L661.6,714.9 L661.1,712.9 L660.7,710.8 L660.3,708.7 L664.5,713.5 L658.0,700.0 L648.4,712.2 L655.2,709.0 L655.4,711.5 L655.7,713.9 L656.0,716.2 L656.5,718.5 L657.0,720.7 L657.6,722.8 L658.3,724.9 L658.9,726.9 L659.6,728.9 L660.3,730.9 L661.0,732.8 L661.6,734.8 L662.2,736.7 L662.8,738.6 L663.3,740.5 L663.7,742.4 L664.1,744.3 L664.3,746.3 L664.5,748.3 L664.5,750.3 L664.5,752.4 L664.3,754.5 L663.9,756.8 L663.4,759.1 Z" fill="url(#ag27)"/>
</g>
<!-- ============ FUNNEL ============ -->
<path d="M594,47 L651,47 L642,122 Q641,126 636,126 L606,126 Q601,126 601,122 Z" fill="url(#funG)"/>
<path d="M611,50 L625,50 L622,122 L613,122 Z" fill="#8e9092" opacity="0.6"/>
<ellipse cx="622.5" cy="47.5" rx="28.5" ry="2.5" fill="#e4e6e8"/>
<path d="M594,47 L651,47 L642,122 Q641,126 636,126 L606,126 Q601,126 601,122 Z" fill="none" stroke="#8a8c8e" stroke-width="0.8"/>
<rect x="602" y="127.5" width="41" height="4.5" fill="#b2b4b6"/>
<rect x="608" y="126" width="29" height="2" fill="#8c8e90"/>
<!-- ============ LEADER LINES ============ -->
<g stroke="#6e6e6e" stroke-width="2" fill="none">
  <line x1="243" y1="57" x2="386" y2="57"/>
  <line x1="699" y1="187.5" x2="974" y2="187.5"/>
  <line x1="19" y1="221" x2="140" y2="221"/>
  <line x1="26" y1="426" x2="188" y2="426"/>
  <line x1="717" y1="559.5" x2="934" y2="559.5"/>
  <line x1="724" y1="737.5" x2="935" y2="737.5"/>
  <line x1="724" y1="879.5" x2="904" y2="879.5"/>
  <line x1="537" y1="948" x2="682" y2="948"/>
</g>
<g stroke="#222" stroke-width="1.1" fill="none">
  <line x1="386" y1="57" x2="604" y2="101"/>
  <line x1="699" y1="187.5" x2="747" y2="306"/>
  <line x1="140" y1="221" x2="273" y2="321"/>
  <line x1="188" y1="426" x2="150" y2="554"/>
  <line x1="717" y1="559.5" x2="617" y2="457"/>
  <line x1="724" y1="737.5" x2="647" y2="666"/>
  <line x1="724" y1="879.5" x2="531" y2="780"/>
  <line x1="537" y1="948" x2="468" y2="840"/>
</g>
<g>
  <circle cx="604" cy="101" r="9" fill="url(#dotG)"/>
  <circle cx="747" cy="306" r="9" fill="url(#dotG)"/>
  <circle cx="273" cy="321" r="9" fill="url(#dotG)"/>
  <circle cx="150" cy="554" r="9" fill="url(#dotG)"/>
  <circle cx="617" cy="457" r="9" fill="url(#dotG)"/>
  <circle cx="647" cy="666" r="9" fill="url(#dotG)"/>
  <circle cx="531" cy="780" r="9" fill="url(#dotG)"/>
  <circle cx="468" cy="840" r="9" fill="url(#dotG)"/>
</g>
<!-- ============ TEXT ============ -->
<text class="t" x="217.1" y="53.8" font-size="14.6" textLength="205.2" lengthAdjust="spacingAndGlyphs" xml:space="preserve">ВОРОНКА ПАРОГЕНЕРАТОРА</text>
<text class="t" x="710.3" y="161.9" font-size="15.1" textLength="234.3" lengthAdjust="spacingAndGlyphs" xml:space="preserve">ДВЕРКА ВНУТРЕННЕЙ КАМЕНКИ</text>
<text class="t" x="710.3" y="180.8" font-size="15.1" textLength="254.3" lengthAdjust="spacingAndGlyphs" xml:space="preserve">СО ШТОРКАМИ ДЛЯ ВЫХОДА ПАРА</text>
<text class="t" x="28.4" y="214.6" font-size="14.8" textLength="92.8" lengthAdjust="spacingAndGlyphs" xml:space="preserve">ОБЛИЦОВКА</text>
<text class="t" x="25.4" y="384" font-size="15.1" textLength="162.8" lengthAdjust="spacingAndGlyphs" xml:space="preserve">ЧУГУННАЯ ТОПОЧНАЯ</text>
<text class="t" x="25.4" y="402.3" font-size="15.1" textLength="155.2" lengthAdjust="spacingAndGlyphs" xml:space="preserve">ДВЕРКА С СИСТЕМОЙ</text>
<text class="t" x="25.4" y="420.6" font-size="15.1" textLength="133.2" lengthAdjust="spacingAndGlyphs" xml:space="preserve">«ЧИСТОЕ СТЕКЛО»</text>
<text class="t" x="723.4" y="513" font-size="15.1" textLength="171.7" lengthAdjust="spacingAndGlyphs" xml:space="preserve">ВНУТРЕННЯЯ КАМЕНКА</text>
<text class="t" x="723.4" y="532" font-size="15.1" textLength="191.7" lengthAdjust="spacingAndGlyphs" xml:space="preserve">ИЗ НЕРЖАВЕЮЩЕЙ СТАЛИ</text>
<text class="t" x="723.4" y="550.8" font-size="15.1" textLength="154.2" lengthAdjust="spacingAndGlyphs" xml:space="preserve">МАРКИ AISI 430,  4 мм</text>
<text class="t" x="734.4" y="695" font-size="15.1" textLength="50.0" lengthAdjust="spacingAndGlyphs" xml:space="preserve">ТОПКА</text>
<text class="t" x="734.4" y="713.8" font-size="15.1" textLength="166.2" lengthAdjust="spacingAndGlyphs" xml:space="preserve">ЖАРОСТОЙКИЙ ЧУГУН</text>
<text class="t" x="734.4" y="731.8" font-size="15.1" textLength="96.7" lengthAdjust="spacingAndGlyphs" xml:space="preserve">ГОСТ 1412-85</text>
<text class="t" x="728.1" y="873.8" font-size="15.1" textLength="167.4" lengthAdjust="spacingAndGlyphs" xml:space="preserve">ЧУГУННЫЙ КОЛОСНИК</text>
<text class="t" x="546.4" y="941" font-size="15.1" textLength="121.8" lengthAdjust="spacingAndGlyphs" xml:space="preserve">ЗОЛЬНЫЙ ЯЩИК</text>
</svg>
</body></html>
